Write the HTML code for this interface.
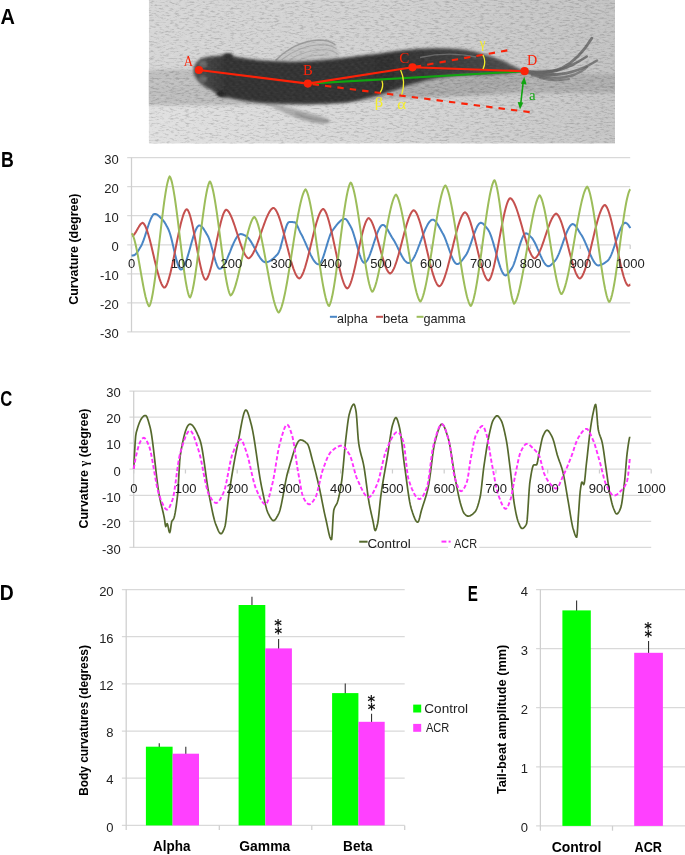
<!DOCTYPE html>
<html lang="en">
<head>
<meta charset="utf-8">
<title>Figure: body curvature and tail-beat amplitude</title>
<style>
html,body{margin:0;padding:0;background:#fff;}
body{width:685px;height:855px;overflow:hidden;}
svg{display:block;font-family:"Liberation Sans", sans-serif;}
</style>
</head>
<body>
<svg width="685" height="855" viewBox="0 0 685 855">
<rect width="685" height="855" fill="#fff"/>
<defs><linearGradient id="bgTop" x1="0" y1="0" x2="1" y2="0"><stop offset="0" stop-color="#d6d6d6"/><stop offset="0.5" stop-color="#d1d1d1"/><stop offset="1" stop-color="#c2c2c2"/></linearGradient><linearGradient id="bgBot" x1="0" y1="0" x2="1" y2="0"><stop offset="0" stop-color="#e0e0e0"/><stop offset="0.55" stop-color="#d5d5d5"/><stop offset="1" stop-color="#c5c5c5"/></linearGradient><linearGradient id="band" x1="0" y1="0" x2="1" y2="0"><stop offset="0" stop-color="#bfbfbf"/><stop offset="0.6" stop-color="#b0b0b0"/><stop offset="1" stop-color="#adadad"/></linearGradient><linearGradient id="body" x1="0" y1="0" x2="1" y2="0"><stop offset="0" stop-color="#4a4a4a"/><stop offset="0.1" stop-color="#2a2a2a"/><stop offset="0.6" stop-color="#282828"/><stop offset="0.8" stop-color="#383838"/><stop offset="1" stop-color="#4c4c4c"/></linearGradient><filter id="bl05" x="-10%" y="-30%" width="120%" height="160%"><feGaussianBlur stdDeviation="0.6"/></filter><filter id="bl1" x="-10%" y="-30%" width="120%" height="160%"><feGaussianBlur stdDeviation="1.1"/></filter><filter id="bl08" x="-10%" y="-30%" width="120%" height="160%"><feGaussianBlur stdDeviation="0.85"/></filter><filter id="bl15" x="-10%" y="-30%" width="120%" height="160%"><feGaussianBlur stdDeviation="1.5"/></filter><filter id="bl2" x="-10%" y="-40%" width="120%" height="180%"><feGaussianBlur stdDeviation="2"/></filter><filter id="grainW" x="0" y="0" width="100%" height="100%"><feTurbulence type="fractalNoise" baseFrequency="0.2 0.6" numOctaves="3" seed="7"/><feColorMatrix type="matrix" values="0 0 0 0 1  0 0 0 0 1  0 0 0 0 1  3 0 0 0 -1.5"/><feGaussianBlur stdDeviation="0.5"/></filter><filter id="grainB" x="0" y="0" width="100%" height="100%"><feTurbulence type="fractalNoise" baseFrequency="0.2 0.6" numOctaves="3" seed="7"/><feColorMatrix type="matrix" values="0 0 0 0 0  0 0 0 0 0  0 0 0 0 0  -3 0 0 0 1.5"/><feGaussianBlur stdDeviation="0.5"/></filter><pattern id="scales" x="0" y="0" width="7" height="6.4" patternUnits="userSpaceOnUse" patternTransform="rotate(-88) skewX(8)"><path d="M0,0 Q3.5,4 7,0 M-3.5,3.2 Q0,7.2 3.5,3.2 M3.5,3.2 Q7,7.2 10.5,3.2" fill="none" stroke="#707070" stroke-width="1.3" opacity="0.6"/></pattern><clipPath id="pc"><rect x="148.8" y="0" width="466.2" height="143.5"/></clipPath></defs>
<g clip-path="url(#pc)">
<rect x="148.8" y="0" width="466.2" height="143.5" fill="url(#bgTop)"/>
<rect x="148.8" y="88" width="466.2" height="55.5" fill="url(#bgBot)"/>
<path d="M140,70 L300,68 L460,72 L625,74 L625,92.5 L520,93.5 L430,97 L300,105 L140,105.5 Z" fill="url(#band)" filter="url(#bl15)"/>
<path d="M140,78 L200,78 L200,87 L140,87 Z" fill="#cccccc" opacity="0.25" filter="url(#bl2)"/>
<path d="M395,88 C420,80 470,76 525,72 C530,78 520,88 490,93 C460,97 420,98 395,96 Z" fill="#9d9d9d" opacity="0.4" filter="url(#bl2)"/>
<rect x="148.8" y="0" width="466.2" height="143.5" filter="url(#grainW)" opacity="0.12"/>
<rect x="148.8" y="0" width="466.2" height="143.5" filter="url(#grainB)" opacity="0.1"/>
<path d="M275,60.5 C285,50 300,41 318,39.5 C326,39.5 333,42 336,46 C339,51 340,56 339,61 Z" fill="#b4b4b4" opacity="0.45" filter="url(#bl1)"/>
<g fill="none" stroke-linecap="round" filter="url(#bl05)"><path d="M276,60 C286,50 300,41.5 318,40 C325,40 331,41.5 335,44.5" stroke="#8c8c8c" stroke-width="1.5" opacity="0.75"/><path d="M282,59.5 C292,51.5 305,45.5 320,44.5 C327,44.5 332,46 336,48.5" stroke="#9c9c9c" stroke-width="1.2" opacity="0.7"/><path d="M290,59.5 C300,53.5 312,49.5 324,49.5 C330,50 334,51.5 337,53.5" stroke="#a2a2a2" stroke-width="1.2" opacity="0.65"/><path d="M300,59.5 C308,56 318,54.5 328,55" stroke="#a8a8a8" stroke-width="1.1" opacity="0.6"/></g>
<path d="M263,101.5 C272,103 290,108 308,112.5 C318,115 327,117.5 331,121 C329,124.5 322,124.5 312,122.5 C300,120 285,114 268,104.5 Z" fill="#a6a6a6" opacity="0.85" filter="url(#bl1)"/>
<path d="M296,113.5 C306,117.5 318,120.5 327,121" fill="none" stroke="#868686" stroke-width="2.6" opacity="0.7" stroke-linecap="round" filter="url(#bl1)"/>
<g fill="none" stroke="#626262" stroke-linecap="round" filter="url(#bl05)"><path d="M525,71.5 C540,73 552,72.5 562,68 C574,62 584,51 591.8,38.2" stroke-width="2.8" opacity="0.8"/><path d="M527,72 C545,74 560,71 572,65 C578,62 583,59 586.8,56.5" stroke-width="2.6" opacity="0.8"/><path d="M528,73 C548,77 568,74 582,68.5 C588,66 593,63 597,60.5" stroke-width="2.6" opacity="0.75"/><path d="M532,75 C548,79.5 562,79 575,74.5 C580,72.5 584,70 587,67" stroke-width="2.4" opacity="0.65"/><path d="M540,78 C550,81 560,81 569,79" stroke-width="2.2" opacity="0.6"/></g><path d="M524,71.3 L550,70 L558,75.5 L540,78 Z" fill="#666" opacity="0.8" filter="url(#bl1)"/>
<path d="M193.6,70 C193.8,64 198,58.6 206,57.2 C213,56 219,56.4 222,55.6 C225,53.2 231,53 234,56.6 C245,59.5 270,61.5 295,61.8 C312,61.5 328,60 342,58.3 C358,56.2 374,54.2 388,52.4 C402,50.4 414,49.2 425,48.8 C436,48.4 446,48.5 455,49 C464,49.6 472,51 479,53 C488,55.5 496,58.2 502,60.5 C508,63.5 513,66 516.5,67.6 C520,69.2 522.5,70.4 525,71.3 C518,72.6 510,73.4 500,74 C486,74.6 470,74.9 455,75.8 C444,76.8 433,78.6 424,80.8 C417,82.6 410,84.6 404.5,86.6 C399,88.6 394,90.4 388.5,92 C381,94.4 373,96.6 365,98.4 C357,100.8 349,102 341.5,102.8 C326,104 310,104.2 295,103.8 C278,103.6 262,103 250,101.4 C240,100 232,98.4 228,97.2 C225,98.2 220,97.4 218.5,94.4 C215.5,93 213.5,91.6 211.5,89.8 C205,87 199,83 196,78 C194.2,75.4 193.4,72.6 193.6,70 Z" fill="url(#body)" filter="url(#bl15)"/>
<path d="M193.6,70 C193.8,64 198,58.6 206,57.2 C213,56 219,56.4 222,55.6 C225,53.2 231,53 234,56.6 C245,59.5 270,61.5 295,61.8 C312,61.5 328,60 342,58.3 C358,56.2 374,54.2 388,52.4 C402,50.4 414,49.2 425,48.8 C436,48.4 446,48.5 455,49 C464,49.6 472,51 479,53 C488,55.5 496,58.2 502,60.5 C508,63.5 513,66 516.5,67.6 C520,69.2 522.5,70.4 525,71.3 C518,72.6 510,73.4 500,74 C486,74.6 470,74.9 455,75.8 C444,76.8 433,78.6 424,80.8 C417,82.6 410,84.6 404.5,86.6 C399,88.6 394,90.4 388.5,92 C381,94.4 373,96.6 365,98.4 C357,100.8 349,102 341.5,102.8 C326,104 310,104.2 295,103.8 C278,103.6 262,103 250,101.4 C240,100 232,98.4 228,97.2 C225,98.2 220,97.4 218.5,94.4 C215.5,93 213.5,91.6 211.5,89.8 C205,87 199,83 196,78 C194.2,75.4 193.4,72.6 193.6,70 Z" fill="url(#scales)" opacity="0.55" filter="url(#bl08)"/>
<path d="M420,57.5 C440,53 460,53.5 476,57" fill="none" stroke="#8a8a8a" stroke-width="1.3" opacity="0.6" filter="url(#bl05)"/>
<ellipse cx="203" cy="64" rx="4" ry="3.5" fill="#808080" opacity="0.6" filter="url(#bl1)"/><ellipse cx="203" cy="79" rx="4" ry="3.5" fill="#808080" opacity="0.6" filter="url(#bl1)"/>
<ellipse cx="228" cy="56" rx="3.8" ry="2.2" fill="#2e2e2e" filter="url(#bl1)"/>
<ellipse cx="220.5" cy="93.6" rx="3.8" ry="2.8" fill="#262626" filter="url(#bl1)"/>
<rect x="148.8" y="0" width="466.2" height="143.5" filter="url(#grainW)" opacity="0.035"/>
<rect x="148.8" y="0" width="466.2" height="143.5" filter="url(#grainB)" opacity="0.05"/>
</g>
<line x1="307.8" y1="83.6" x2="524.6" y2="71.2" stroke="#10a510" stroke-width="2.1"/>
<line x1="307.8" y1="83.6" x2="530.2" y2="112.2" stroke="#fb2208" stroke-width="2.1" stroke-dasharray="6.4 6.1" stroke-dashoffset="-4.8"/>
<line x1="412.5" y1="67.3" x2="507.3" y2="50.4" stroke="#fb2208" stroke-width="2.1" stroke-dasharray="6.4 6.1" stroke-dashoffset="-2.4"/>
<path d="M198.9,70.0 L307.8,83.6 L412.5,67.3 L524.6,71.2" fill="none" stroke="#fb2208" stroke-width="2.1" stroke-linejoin="round"/>
<circle cx="198.9" cy="70.0" r="4.1" fill="#fb2208"/>
<circle cx="307.8" cy="83.6" r="4.1" fill="#fb2208"/>
<circle cx="412.5" cy="67.3" r="4.1" fill="#fb2208"/>
<circle cx="524.6" cy="71.2" r="4.1" fill="#fb2208"/>
<text transform="matrix(0.1277 0.0000 0.0000 0.1450 183.7723 65.8000)" font-size="100" font-family='"Liberation Serif", serif' fill="#fb2208">A</text>
<text transform="matrix(0.1458 0.0000 0.0000 0.1542 303.0627 75.1000)" font-size="100" font-family='"Liberation Serif", serif' fill="#fb2208">B</text>
<text transform="matrix(0.1509 0.0000 0.0000 0.1463 399.1965 63.2537)" font-size="100" font-family='"Liberation Serif", serif' fill="#fb2208">C</text>
<text transform="matrix(0.1415 0.0000 0.0000 0.1466 527.0754 65.0000)" font-size="100" font-family='"Liberation Serif", serif' fill="#fb2208">D</text>
<text transform="matrix(0.1310 0.0000 0.0000 0.1444 479.7000 48.4684)" font-size="100" font-family='"Liberation Serif", serif' fill="#f5ee2a">γ</text>
<text transform="matrix(0.1650 0.0000 0.0000 0.1429 374.6275 107.1000)" font-size="100" font-family='"Liberation Serif", serif' fill="#f5ee2a">β</text>
<text transform="matrix(0.1696 0.0000 0.0000 0.1500 397.2217 109.0500)" font-size="100" font-family='"Liberation Serif", serif' fill="#f5ee2a">α</text>
<text transform="matrix(0.1494 0.0000 0.0000 0.1411 528.8772 99.5589)" font-size="100" font-family='"Liberation Serif", serif' fill="#10a510">a</text>
<path d="M483,55 Q486.5,62 483,69" fill="none" stroke="#f5ee2a" stroke-width="1.3"/>
<path d="M400.6,70 Q406,82 401.7,94.6" fill="none" stroke="#f5ee2a" stroke-width="1.3"/>
<path d="M381.9,80.6 Q384,86.5 380.3,92.3" fill="none" stroke="#f5ee2a" stroke-width="1.3"/>
<line x1="523.2" y1="82" x2="520.7" y2="104" stroke="#10a510" stroke-width="1.6"/>
<path d="M524.3,76.8 L526.6,84.4 L521.0,83.8 Z" fill="#10a510"/>
<path d="M520,109.5 L517.7,101.9 L523.3,102.5 Z" fill="#10a510"/>
<text transform="matrix(0.1993 0.0000 0.0000 0.2190 0.6019 23.8700)" font-size="100" font-family='"Liberation Sans", sans-serif' font-weight="bold" fill="#000">A</text>
<text transform="matrix(0.1770 0.0000 0.0000 0.2159 0.9492 167.1000)" font-size="100" font-family='"Liberation Sans", sans-serif' font-weight="bold" fill="#000">B</text>
<text transform="matrix(0.1664 0.0000 0.0000 0.2176 0.2344 406.4324)" font-size="100" font-family='"Liberation Sans", sans-serif' font-weight="bold" fill="#000">C</text>
<text transform="matrix(0.1935 0.0000 0.0000 0.2116 -0.2577 599.9000)" font-size="100" font-family='"Liberation Sans", sans-serif' font-weight="bold" fill="#000">D</text>
<text transform="matrix(0.1522 0.0000 0.0000 0.2130 467.7106 600.8000)" font-size="100" font-family='"Liberation Sans", sans-serif' font-weight="bold" fill="#000">E</text>
<line x1="127.20" y1="331.90" x2="630.20" y2="331.90" stroke="#d9d9d9" stroke-width="1.25"/>
<text x="118.8" y="338.3" font-size="13" text-anchor="end" fill="#222">-30</text>
<line x1="127.20" y1="302.85" x2="630.20" y2="302.85" stroke="#d9d9d9" stroke-width="1.25"/>
<text x="118.8" y="309.25" font-size="13" text-anchor="end" fill="#222">-20</text>
<line x1="127.20" y1="273.80" x2="630.20" y2="273.80" stroke="#d9d9d9" stroke-width="1.25"/>
<text x="118.8" y="280.2" font-size="13" text-anchor="end" fill="#222">-10</text>
<line x1="127.20" y1="244.75" x2="630.20" y2="244.75" stroke="#d9d9d9" stroke-width="1.25"/>
<text x="118.8" y="251.15" font-size="13" text-anchor="end" fill="#222">0</text>
<line x1="127.20" y1="215.70" x2="630.20" y2="215.70" stroke="#d9d9d9" stroke-width="1.25"/>
<text x="118.8" y="222.1" font-size="13" text-anchor="end" fill="#222">10</text>
<line x1="127.20" y1="186.65" x2="630.20" y2="186.65" stroke="#d9d9d9" stroke-width="1.25"/>
<text x="118.8" y="193.05" font-size="13" text-anchor="end" fill="#222">20</text>
<line x1="127.20" y1="157.60" x2="630.20" y2="157.60" stroke="#d9d9d9" stroke-width="1.25"/>
<text x="118.8" y="164.0" font-size="13" text-anchor="end" fill="#222">30</text>
<line x1="131.50" y1="157.60" x2="131.50" y2="331.90" stroke="#cfcfcf" stroke-width="1.25"/>
<line x1="131.50" y1="244.75" x2="131.50" y2="249.05" stroke="#cfcfcf" stroke-width="1.25"/>
<line x1="181.37" y1="244.75" x2="181.37" y2="249.05" stroke="#cfcfcf" stroke-width="1.25"/>
<line x1="231.24" y1="244.75" x2="231.24" y2="249.05" stroke="#cfcfcf" stroke-width="1.25"/>
<line x1="281.11" y1="244.75" x2="281.11" y2="249.05" stroke="#cfcfcf" stroke-width="1.25"/>
<line x1="330.98" y1="244.75" x2="330.98" y2="249.05" stroke="#cfcfcf" stroke-width="1.25"/>
<line x1="380.85" y1="244.75" x2="380.85" y2="249.05" stroke="#cfcfcf" stroke-width="1.25"/>
<line x1="430.72" y1="244.75" x2="430.72" y2="249.05" stroke="#cfcfcf" stroke-width="1.25"/>
<line x1="480.59" y1="244.75" x2="480.59" y2="249.05" stroke="#cfcfcf" stroke-width="1.25"/>
<line x1="530.46" y1="244.75" x2="530.46" y2="249.05" stroke="#cfcfcf" stroke-width="1.25"/>
<line x1="580.33" y1="244.75" x2="580.33" y2="249.05" stroke="#cfcfcf" stroke-width="1.25"/>
<line x1="630.20" y1="244.75" x2="630.20" y2="249.05" stroke="#cfcfcf" stroke-width="1.25"/>
<path d="M131.6,255.7 L132.1,255.6 L132.6,255.6 L133.1,255.5 L133.6,255.3 L134.1,255.2 L134.6,255.0 L135.1,254.7 L135.6,254.3 L136.1,253.7 L136.6,253.1 L137.1,252.5 L137.6,251.7 L138.1,251.0 L138.6,250.2 L139.1,249.3 L139.6,248.5 L140.1,247.6 L140.6,246.8 L141.1,245.9 L141.6,245.0 L142.1,243.9 L142.6,242.7 L143.1,241.5 L143.6,240.1 L144.1,238.7 L144.6,237.2 L145.1,235.7 L145.6,234.1 L146.1,232.6 L146.6,231.0 L147.1,229.4 L147.6,227.8 L148.1,226.3 L148.6,224.8 L149.1,223.3 L149.6,221.9 L150.1,220.6 L150.6,219.4 L151.1,218.2 L151.6,217.2 L152.1,216.3 L152.6,215.5 L153.1,214.8 L153.6,214.3 L154.1,214.0 L154.6,213.9 L155.1,213.9 L155.6,214.0 L156.1,214.2 L156.6,214.4 L157.1,214.7 L157.6,215.0 L158.1,215.4 L158.6,215.8 L159.1,216.2 L159.6,216.7 L160.1,217.2 L160.6,217.7 L161.1,218.2 L161.6,218.7 L162.1,219.2 L162.6,219.7 L163.1,220.3 L163.6,221.0 L164.1,221.7 L164.6,222.4 L165.1,223.2 L165.6,224.1 L166.1,225.0 L166.6,225.9 L167.1,226.8 L167.6,227.8 L168.1,228.8 L168.6,229.8 L169.1,231.1 L169.6,232.5 L170.1,234.0 L170.6,235.8 L171.1,237.6 L171.6,239.5 L172.1,241.6 L172.6,243.7 L173.1,245.8 L173.6,248.0 L174.1,250.2 L174.6,252.3 L175.1,254.4 L175.6,256.5 L176.1,258.5 L176.6,260.4 L177.1,262.1 L177.6,263.8 L178.1,265.2 L178.6,266.5 L179.1,267.6 L179.6,268.5 L180.1,269.1 L180.6,269.5 L181.1,269.6 L181.6,269.4 L182.1,269.1 L182.6,268.6 L183.1,268.0 L183.6,267.2 L184.1,266.2 L184.6,265.2 L185.1,264.0 L185.6,262.7 L186.1,261.3 L186.6,259.8 L187.1,258.2 L187.6,256.6 L188.1,254.9 L188.6,253.2 L189.1,251.4 L189.6,249.7 L190.1,247.9 L190.6,246.1 L191.1,244.3 L191.6,242.5 L192.1,240.8 L192.6,239.1 L193.1,237.4 L193.6,235.8 L194.1,234.3 L194.6,232.9 L195.1,231.5 L195.6,230.3 L196.1,229.2 L196.6,228.2 L197.1,227.3 L197.6,226.6 L198.1,226.1 L198.6,225.7 L199.1,225.5 L199.6,225.4 L200.1,225.6 L200.6,225.8 L201.1,226.1 L201.6,226.5 L202.1,227.0 L202.6,227.6 L203.1,228.2 L203.6,228.9 L204.1,229.7 L204.6,230.5 L205.1,231.3 L205.6,232.1 L206.1,233.0 L206.6,233.9 L207.1,234.7 L207.6,235.6 L208.1,236.5 L208.6,237.5 L209.1,238.8 L209.6,240.2 L210.1,241.7 L210.6,243.3 L211.1,245.1 L211.6,246.9 L212.1,248.7 L212.6,250.6 L213.1,252.5 L213.6,254.4 L214.1,256.3 L214.6,258.1 L215.1,259.8 L215.6,261.5 L216.1,263.0 L216.6,264.4 L217.1,265.6 L217.6,266.7 L218.1,267.6 L218.6,268.2 L219.1,268.6 L219.6,268.8 L220.1,268.7 L220.6,268.6 L221.1,268.3 L221.6,267.9 L222.1,267.5 L222.6,266.9 L223.1,266.3 L223.6,265.6 L224.1,264.8 L224.6,263.9 L225.1,263.0 L225.6,262.0 L226.1,261.0 L226.6,259.9 L227.1,258.8 L227.6,257.6 L228.1,256.4 L228.6,255.2 L229.1,254.0 L229.6,252.8 L230.1,251.6 L230.6,250.3 L231.1,249.1 L231.6,247.9 L232.1,246.7 L232.6,245.5 L233.1,244.3 L233.6,243.2 L234.1,242.1 L234.6,241.1 L235.1,240.1 L235.6,239.2 L236.1,238.3 L236.6,237.5 L237.1,236.7 L237.6,236.1 L238.1,235.5 L238.6,235.0 L239.1,234.6 L239.6,234.4 L240.1,234.2 L240.6,234.1 L241.1,234.1 L241.6,234.2 L242.1,234.3 L242.6,234.5 L243.1,234.6 L243.6,234.8 L244.1,235.1 L244.6,235.3 L245.1,235.5 L245.6,235.8 L246.1,236.1 L246.6,236.4 L247.1,236.8 L247.6,237.2 L248.1,237.7 L248.6,238.3 L249.1,238.9 L249.6,239.6 L250.1,240.3 L250.6,241.1 L251.1,241.9 L251.6,242.7 L252.1,243.6 L252.6,244.4 L253.1,245.3 L253.6,246.3 L254.1,247.2 L254.6,248.1 L255.1,249.1 L255.6,250.0 L256.1,250.9 L256.6,251.9 L257.1,252.8 L257.6,253.7 L258.1,254.6 L258.6,255.4 L259.1,256.2 L259.6,257.0 L260.1,257.8 L260.6,258.5 L261.1,259.1 L261.6,259.7 L262.1,260.3 L262.6,260.8 L263.1,261.2 L263.6,261.6 L264.1,261.8 L264.6,262.0 L265.1,262.2 L265.6,262.2 L266.1,262.2 L266.6,262.2 L267.1,262.1 L267.6,261.9 L268.1,261.8 L268.6,261.6 L269.1,261.4 L269.6,261.1 L270.1,260.8 L270.6,260.5 L271.1,260.2 L271.6,259.8 L272.1,259.4 L272.6,259.0 L273.1,258.6 L273.6,258.2 L274.1,257.7 L274.6,257.2 L275.1,256.8 L275.6,256.3 L276.1,255.8 L276.6,255.2 L277.1,254.7 L277.6,254.2 L278.1,253.4 L278.6,252.5 L279.1,251.3 L279.6,250.0 L280.1,248.5 L280.6,246.8 L281.1,245.1 L281.6,243.3 L282.1,241.4 L282.6,239.5 L283.1,237.6 L283.6,235.7 L284.1,233.8 L284.6,231.9 L285.1,230.2 L285.6,228.6 L286.1,227.1 L286.6,225.7 L287.1,224.5 L287.6,223.5 L288.1,222.8 L288.6,222.3 L289.1,222.0 L289.6,222.0 L290.1,222.0 L290.6,222.0 L291.1,222.1 L291.6,222.1 L292.1,222.1 L292.6,222.1 L293.1,222.2 L293.6,222.2 L294.1,222.2 L294.6,222.3 L295.1,222.5 L295.6,223.0 L296.1,223.6 L296.6,224.4 L297.1,225.3 L297.6,226.4 L298.1,227.5 L298.6,228.6 L299.1,229.8 L299.6,230.9 L300.1,232.0 L300.6,233.0 L301.1,233.9 L301.6,234.8 L302.1,235.7 L302.6,236.8 L303.1,237.8 L303.6,238.9 L304.1,239.9 L304.6,241.1 L305.1,242.2 L305.6,243.3 L306.1,244.5 L306.6,245.6 L307.1,246.8 L307.6,247.9 L308.1,249.1 L308.6,250.2 L309.1,251.3 L309.6,252.4 L310.1,253.5 L310.6,254.6 L311.1,255.6 L311.6,256.6 L312.1,257.5 L312.6,258.4 L313.1,259.3 L313.6,260.1 L314.1,260.8 L314.6,261.5 L315.1,262.1 L315.6,262.7 L316.1,263.1 L316.6,263.6 L317.1,263.9 L317.6,264.1 L318.1,264.3 L318.6,264.3 L319.1,264.2 L319.6,264.0 L320.1,263.5 L320.6,262.8 L321.1,262.0 L321.6,261.0 L322.1,259.9 L322.6,258.7 L323.1,257.3 L323.6,255.9 L324.1,254.4 L324.6,252.8 L325.1,251.1 L325.6,249.5 L326.1,247.8 L326.6,246.1 L327.1,244.4 L327.6,242.7 L328.1,241.1 L328.6,239.5 L329.1,238.0 L329.6,236.5 L330.1,235.2 L330.6,234.0 L331.1,232.8 L331.6,231.9 L332.1,231.0 L332.6,230.3 L333.1,229.7 L333.6,229.0 L334.1,228.3 L334.6,227.6 L335.1,227.0 L335.6,226.3 L336.1,225.7 L336.6,225.0 L337.1,224.4 L337.6,223.8 L338.1,223.2 L338.6,222.7 L339.1,222.2 L339.6,221.7 L340.1,221.2 L340.6,220.8 L341.1,220.4 L341.6,220.0 L342.1,219.7 L342.6,219.5 L343.1,219.2 L343.6,219.1 L344.1,218.9 L344.6,218.9 L345.1,218.9 L345.6,219.0 L346.1,219.4 L346.6,219.9 L347.1,220.5 L347.6,221.2 L348.1,222.0 L348.6,222.9 L349.1,223.8 L349.6,224.7 L350.1,225.6 L350.6,226.5 L351.1,227.4 L351.6,228.5 L352.1,229.7 L352.6,231.0 L353.1,232.4 L353.6,234.0 L354.1,235.6 L354.6,237.2 L355.1,238.9 L355.6,240.7 L356.1,242.5 L356.6,244.3 L357.1,246.1 L357.6,247.8 L358.1,249.6 L358.6,251.3 L359.1,252.9 L359.6,254.5 L360.1,255.9 L360.6,257.3 L361.1,258.5 L361.6,259.6 L362.1,260.6 L362.6,261.4 L363.1,262.0 L363.6,262.5 L364.1,262.7 L364.6,262.7 L365.1,262.6 L365.6,262.3 L366.1,261.8 L366.6,261.2 L367.1,260.5 L367.6,259.7 L368.1,258.8 L368.6,257.7 L369.1,256.6 L369.6,255.4 L370.1,254.1 L370.6,252.7 L371.1,251.3 L371.6,249.9 L372.1,248.4 L372.6,246.9 L373.1,245.3 L373.6,243.8 L374.1,242.2 L374.6,240.7 L375.1,239.2 L375.6,237.7 L376.1,236.3 L376.6,234.9 L377.1,233.5 L377.6,232.2 L378.1,231.0 L378.6,229.9 L379.1,228.9 L379.6,227.9 L380.1,227.1 L380.6,226.4 L381.1,225.8 L381.6,225.4 L382.1,225.1 L382.6,224.9 L383.1,224.9 L383.6,225.1 L384.1,225.3 L384.6,225.7 L385.1,226.2 L385.6,226.7 L386.1,227.4 L386.6,228.1 L387.1,228.8 L387.6,229.6 L388.1,230.5 L388.6,231.4 L389.1,232.3 L389.6,233.2 L390.1,234.1 L390.6,235.0 L391.1,235.9 L391.6,236.7 L392.1,237.6 L392.6,238.3 L393.1,239.1 L393.6,239.9 L394.1,240.7 L394.6,241.6 L395.1,242.5 L395.6,243.4 L396.1,244.4 L396.6,245.4 L397.1,246.4 L397.6,247.4 L398.1,248.5 L398.6,249.5 L399.1,250.5 L399.6,251.5 L400.1,252.6 L400.6,253.5 L401.1,254.5 L401.6,255.5 L402.1,256.4 L402.6,257.2 L403.1,258.1 L403.6,258.9 L404.1,259.6 L404.6,260.3 L405.1,260.9 L405.6,261.4 L406.1,261.9 L406.6,262.3 L407.1,262.6 L407.6,262.8 L408.1,263.0 L408.6,263.0 L409.1,262.9 L409.6,262.8 L410.1,262.5 L410.6,262.1 L411.1,261.7 L411.6,261.1 L412.1,260.5 L412.6,259.7 L413.1,259.0 L413.6,258.1 L414.1,257.2 L414.6,256.2 L415.1,255.2 L415.6,254.1 L416.1,252.9 L416.6,251.8 L417.1,250.5 L417.6,249.3 L418.1,248.0 L418.6,246.7 L419.1,245.4 L419.6,244.1 L420.1,242.7 L420.6,241.4 L421.1,240.1 L421.6,238.7 L422.1,237.4 L422.6,236.1 L423.1,234.8 L423.6,233.5 L424.1,232.2 L424.6,231.0 L425.1,229.8 L425.6,228.7 L426.1,227.6 L426.6,226.6 L427.1,225.6 L427.6,224.6 L428.1,223.8 L428.6,223.0 L429.1,222.3 L429.6,221.6 L430.1,221.1 L430.6,220.6 L431.1,220.2 L431.6,219.9 L432.1,219.7 L432.6,219.7 L433.1,219.7 L433.6,219.8 L434.1,220.1 L434.6,220.5 L435.1,220.9 L435.6,221.5 L436.1,222.1 L436.6,222.7 L437.1,223.5 L437.6,224.3 L438.1,225.1 L438.6,226.0 L439.1,226.9 L439.6,227.8 L440.1,228.7 L440.6,229.6 L441.1,230.5 L441.6,231.4 L442.1,232.3 L442.6,233.2 L443.1,234.0 L443.6,235.0 L444.1,236.0 L444.6,237.1 L445.1,238.3 L445.6,239.6 L446.1,240.9 L446.6,242.3 L447.1,243.6 L447.6,245.1 L448.1,246.5 L448.6,247.9 L449.1,249.3 L449.6,250.8 L450.1,252.2 L450.6,253.5 L451.1,254.8 L451.6,256.1 L452.1,257.3 L452.6,258.5 L453.1,259.5 L453.6,260.5 L454.1,261.4 L454.6,262.1 L455.1,262.8 L455.6,263.3 L456.1,263.7 L456.6,264.0 L457.1,264.1 L457.6,264.0 L458.1,263.9 L458.6,263.7 L459.1,263.4 L459.6,263.0 L460.1,262.6 L460.6,262.1 L461.1,261.5 L461.6,260.9 L462.1,260.3 L462.6,259.7 L463.1,259.0 L463.6,258.3 L464.1,257.6 L464.6,256.9 L465.1,256.2 L465.6,255.6 L466.1,254.8 L466.6,254.0 L467.1,253.0 L467.6,252.0 L468.1,250.9 L468.6,249.6 L469.1,248.4 L469.6,247.0 L470.1,245.6 L470.6,244.2 L471.1,242.8 L471.6,241.3 L472.1,239.8 L472.6,238.4 L473.1,236.9 L473.6,235.5 L474.1,234.0 L474.6,232.7 L475.1,231.3 L475.6,230.1 L476.1,228.9 L476.6,227.8 L477.1,226.7 L477.6,225.8 L478.1,225.0 L478.6,224.3 L479.1,223.7 L479.6,223.3 L480.1,223.0 L480.6,222.8 L481.1,222.8 L481.6,222.9 L482.1,223.2 L482.6,223.4 L483.1,223.8 L483.6,224.2 L484.1,224.7 L484.6,225.3 L485.1,225.8 L485.6,226.4 L486.1,227.1 L486.6,227.7 L487.1,228.4 L487.6,229.0 L488.1,229.7 L488.6,230.5 L489.1,231.4 L489.6,232.4 L490.1,233.6 L490.6,234.8 L491.1,236.2 L491.6,237.6 L492.1,239.2 L492.6,240.8 L493.1,242.4 L493.6,244.1 L494.1,245.9 L494.6,247.7 L495.1,249.5 L495.6,251.3 L496.1,253.1 L496.6,254.9 L497.1,256.7 L497.6,258.5 L498.1,260.2 L498.6,261.9 L499.1,263.5 L499.6,265.1 L500.1,266.6 L500.6,268.0 L501.1,269.3 L501.6,270.5 L502.1,271.6 L502.6,272.6 L503.1,273.4 L503.6,274.1 L504.1,274.7 L504.6,275.1 L505.1,275.3 L505.6,275.4 L506.1,275.3 L506.6,275.0 L507.1,274.7 L507.6,274.2 L508.1,273.7 L508.6,273.0 L509.1,272.4 L509.6,271.7 L510.1,270.9 L510.6,270.2 L511.1,269.4 L511.6,268.7 L512.1,267.9 L512.6,266.9 L513.1,265.8 L513.6,264.6 L514.1,263.3 L514.6,261.9 L515.1,260.5 L515.6,258.9 L516.1,257.3 L516.6,255.7 L517.1,254.0 L517.6,252.3 L518.1,250.7 L518.6,249.0 L519.1,247.3 L519.6,245.7 L520.1,244.1 L520.6,242.6 L521.1,241.2 L521.6,239.8 L522.1,238.5 L522.6,237.4 L523.1,236.3 L523.6,235.4 L524.1,234.7 L524.6,234.1 L525.1,233.6 L525.6,233.4 L526.1,233.3 L526.6,233.4 L527.1,233.6 L527.6,233.9 L528.1,234.2 L528.6,234.6 L529.1,235.1 L529.6,235.6 L530.1,236.1 L530.6,236.6 L531.1,237.1 L531.6,237.6 L532.1,238.2 L532.6,238.9 L533.1,239.7 L533.6,240.5 L534.1,241.4 L534.6,242.3 L535.1,243.3 L535.6,244.3 L536.1,245.4 L536.6,246.5 L537.1,247.6 L537.6,248.8 L538.1,249.9 L538.6,251.1 L539.1,252.2 L539.6,253.4 L540.1,254.5 L540.6,255.7 L541.1,256.8 L541.6,257.8 L542.1,258.9 L542.6,259.9 L543.1,260.8 L543.6,261.7 L544.1,262.5 L544.6,263.3 L545.1,264.0 L545.6,264.6 L546.1,265.1 L546.6,265.5 L547.1,265.8 L547.6,266.0 L548.1,266.2 L548.6,266.2 L549.1,266.0 L549.6,265.9 L550.1,265.6 L550.6,265.3 L551.1,264.9 L551.6,264.4 L552.1,263.9 L552.6,263.4 L553.1,262.9 L553.6,262.3 L554.1,261.8 L554.6,261.2 L555.1,260.7 L555.6,260.0 L556.1,259.3 L556.6,258.4 L557.1,257.5 L557.6,256.5 L558.1,255.4 L558.6,254.3 L559.1,253.1 L559.6,251.8 L560.1,250.5 L560.6,249.2 L561.1,247.8 L561.6,246.4 L562.1,245.0 L562.6,243.6 L563.1,242.1 L563.6,240.7 L564.1,239.3 L564.6,237.9 L565.1,236.6 L565.6,235.2 L566.1,233.9 L566.6,232.7 L567.1,231.5 L567.6,230.4 L568.1,229.3 L568.6,228.4 L569.1,227.5 L569.6,226.7 L570.1,226.0 L570.6,225.4 L571.1,224.9 L571.6,224.5 L572.1,224.2 L572.6,224.1 L573.1,224.2 L573.6,224.3 L574.1,224.6 L574.6,225.0 L575.1,225.4 L575.6,226.0 L576.1,226.6 L576.6,227.3 L577.1,228.1 L577.6,228.9 L578.1,229.7 L578.6,230.5 L579.1,231.4 L579.6,232.2 L580.1,233.0 L580.6,233.8 L581.1,234.5 L581.6,235.3 L582.1,236.1 L582.6,237.0 L583.1,237.9 L583.6,238.9 L584.1,240.0 L584.6,241.0 L585.1,242.2 L585.6,243.3 L586.1,244.5 L586.6,245.7 L587.1,246.9 L587.6,248.1 L588.1,249.3 L588.6,250.5 L589.1,251.7 L589.6,252.9 L590.1,254.0 L590.6,255.2 L591.1,256.3 L591.6,257.3 L592.1,258.4 L592.6,259.3 L593.1,260.3 L593.6,261.1 L594.1,261.9 L594.6,262.7 L595.1,263.3 L595.6,263.9 L596.1,264.4 L596.6,264.8 L597.1,265.1 L597.6,265.3 L598.1,265.4 L598.6,265.4 L599.1,265.3 L599.6,265.2 L600.1,265.1 L600.6,265.0 L601.1,264.8 L601.6,264.6 L602.1,264.4 L602.6,264.1 L603.1,263.9 L603.6,263.6 L604.1,263.3 L604.6,262.9 L605.1,262.6 L605.6,262.2 L606.1,261.9 L606.6,261.5 L607.1,261.2 L607.6,260.8 L608.1,260.3 L608.6,259.7 L609.1,259.0 L609.6,258.1 L610.1,257.2 L610.6,256.2 L611.1,255.1 L611.6,253.9 L612.1,252.6 L612.6,251.3 L613.1,249.9 L613.6,248.5 L614.1,247.0 L614.6,245.6 L615.1,244.1 L615.6,242.5 L616.1,241.0 L616.6,239.5 L617.1,238.0 L617.6,236.6 L618.1,235.1 L618.6,233.7 L619.1,232.4 L619.6,231.1 L620.1,229.8 L620.6,228.7 L621.1,227.6 L621.6,226.6 L622.1,225.7 L622.6,224.9 L623.1,224.2 L623.6,223.7 L624.1,223.3 L624.6,223.0 L625.1,222.8 L625.6,222.8 L626.1,223.0 L626.6,223.3 L627.1,223.6 L627.6,224.1 L628.1,224.7 L628.6,225.4 L629.1,226.1 L629.6,226.9 L630.1,227.7 L630.3,228.1" fill="none" stroke="#4a86c5" stroke-width="2" stroke-linejoin="round"/>
<path d="M132.1,235.9 L132.6,235.8 L133.1,235.5 L133.6,235.1 L134.1,234.6 L134.6,233.9 L135.1,233.2 L135.6,232.4 L136.1,231.6 L136.6,230.7 L137.1,229.8 L137.6,228.9 L138.1,228.0 L138.6,227.2 L139.1,226.3 L139.6,225.6 L140.1,224.9 L140.6,224.2 L141.1,223.7 L141.6,223.3 L142.1,223.0 L142.6,222.8 L143.1,223.1 L143.6,223.5 L144.1,224.1 L144.6,224.9 L145.1,225.8 L145.6,226.8 L146.1,228.0 L146.6,229.3 L147.1,230.7 L147.6,232.2 L148.1,233.8 L148.6,235.5 L149.1,237.3 L149.6,239.1 L150.1,241.1 L150.6,243.0 L151.1,245.1 L151.6,247.1 L152.1,249.2 L152.6,251.3 L153.1,253.5 L153.6,255.6 L154.1,257.8 L154.6,259.9 L155.1,262.0 L155.6,264.1 L156.1,266.1 L156.6,268.2 L157.1,270.1 L157.6,272.0 L158.1,273.8 L158.6,275.6 L159.1,277.3 L159.6,278.9 L160.1,280.3 L160.6,281.7 L161.1,283.0 L161.6,284.1 L162.1,285.1 L162.6,285.9 L163.1,286.6 L163.6,287.2 L164.1,287.6 L164.6,287.6 L165.1,287.2 L165.6,286.7 L166.1,285.9 L166.6,285.0 L167.1,283.8 L167.6,282.6 L168.1,281.2 L168.6,279.6 L169.1,277.9 L169.6,276.1 L170.1,274.2 L170.6,272.2 L171.1,270.0 L171.6,267.8 L172.1,265.6 L172.6,263.2 L173.1,260.8 L173.6,258.4 L174.1,255.9 L174.6,253.4 L175.1,250.9 L175.6,248.4 L176.1,245.8 L176.6,243.3 L177.1,240.8 L177.6,238.3 L178.1,235.9 L178.6,233.5 L179.1,231.2 L179.6,228.9 L180.1,226.7 L180.6,224.6 L181.1,222.6 L181.6,220.7 L182.1,218.9 L182.6,217.2 L183.1,215.6 L183.6,214.2 L184.1,213.0 L184.6,211.9 L185.1,210.9 L185.6,210.2 L186.1,209.6 L186.6,209.2 L187.1,209.4 L187.6,209.9 L188.1,210.6 L188.6,211.6 L189.1,212.8 L189.6,214.2 L190.1,215.8 L190.6,217.5 L191.1,219.4 L191.6,221.5 L192.1,223.6 L192.6,225.9 L193.1,228.3 L193.6,230.7 L194.1,233.3 L194.6,235.9 L195.1,238.5 L195.6,241.2 L196.1,243.9 L196.6,246.5 L197.1,249.2 L197.6,251.9 L198.1,254.5 L198.6,257.1 L199.1,259.6 L199.6,262.0 L200.1,264.3 L200.6,266.5 L201.1,268.6 L201.6,270.6 L202.1,272.4 L202.6,274.1 L203.1,275.5 L203.6,276.8 L204.1,277.9 L204.6,278.8 L205.1,279.4 L205.6,279.8 L206.1,279.6 L206.6,279.1 L207.1,278.4 L207.6,277.5 L208.1,276.5 L208.6,275.2 L209.1,273.8 L209.6,272.3 L210.1,270.6 L210.6,268.8 L211.1,266.9 L211.6,264.9 L212.1,262.8 L212.6,260.6 L213.1,258.4 L213.6,256.0 L214.1,253.7 L214.6,251.2 L215.1,248.8 L215.6,246.4 L216.1,243.9 L216.6,241.4 L217.1,239.0 L217.6,236.6 L218.1,234.2 L218.6,231.8 L219.1,229.6 L219.6,227.3 L220.1,225.2 L220.6,223.2 L221.1,221.2 L221.6,219.4 L222.1,217.7 L222.6,216.1 L223.1,214.7 L223.6,213.4 L224.1,212.3 L224.6,211.4 L225.1,210.6 L225.6,210.0 L226.1,209.7 L226.6,209.8 L227.1,210.1 L227.6,210.5 L228.1,211.1 L228.6,211.7 L229.1,212.4 L229.6,213.3 L230.1,214.2 L230.6,215.2 L231.1,216.3 L231.6,217.4 L232.1,218.7 L232.6,219.9 L233.1,221.3 L233.6,222.7 L234.1,224.1 L234.6,225.5 L235.1,227.0 L235.6,228.6 L236.1,230.1 L236.6,231.7 L237.1,233.2 L237.6,234.8 L238.1,236.4 L238.6,237.9 L239.1,239.4 L239.6,241.0 L240.1,242.5 L240.6,243.9 L241.1,245.4 L241.6,246.7 L242.1,248.1 L242.6,249.3 L243.1,250.6 L243.6,251.7 L244.1,252.8 L244.6,253.8 L245.1,254.7 L245.6,255.5 L246.1,256.3 L246.6,256.9 L247.1,257.4 L247.6,257.8 L248.1,258.1 L248.6,258.3 L249.1,258.1 L249.6,257.8 L250.1,257.4 L250.6,256.9 L251.1,256.3 L251.6,255.7 L252.1,254.9 L252.6,254.1 L253.1,253.2 L253.6,252.3 L254.1,251.2 L254.6,250.2 L255.1,249.0 L255.6,247.9 L256.1,246.6 L256.6,245.4 L257.1,244.0 L257.6,242.7 L258.1,241.3 L258.6,239.9 L259.1,238.5 L259.6,237.1 L260.1,235.6 L260.6,234.2 L261.1,232.7 L261.6,231.3 L262.1,229.8 L262.6,228.4 L263.1,227.0 L263.6,225.6 L264.1,224.2 L264.6,222.8 L265.1,221.5 L265.6,220.2 L266.1,218.9 L266.6,217.7 L267.1,216.6 L267.6,215.5 L268.1,214.4 L268.6,213.4 L269.1,212.5 L269.6,211.6 L270.1,210.9 L270.6,210.2 L271.1,209.5 L271.6,209.0 L272.1,208.6 L272.6,208.2 L273.1,208.0 L273.6,207.9 L274.1,208.1 L274.6,208.6 L275.1,209.1 L275.6,209.7 L276.1,210.5 L276.6,211.4 L277.1,212.4 L277.6,213.5 L278.1,214.7 L278.6,215.9 L279.1,217.3 L279.6,218.7 L280.1,220.3 L280.6,221.8 L281.1,223.5 L281.6,225.2 L282.1,226.9 L282.6,228.7 L283.1,230.6 L283.6,232.5 L284.1,234.4 L284.6,236.3 L285.1,238.3 L285.6,240.2 L286.1,242.2 L286.6,244.2 L287.1,246.1 L287.6,248.1 L288.1,250.1 L288.6,252.0 L289.1,253.9 L289.6,255.8 L290.1,257.6 L290.6,259.4 L291.1,261.2 L291.6,262.9 L292.1,264.5 L292.6,266.1 L293.1,267.6 L293.6,269.1 L294.1,270.4 L294.6,271.7 L295.1,272.9 L295.6,274.0 L296.1,275.0 L296.6,275.8 L297.1,276.6 L297.6,277.3 L298.1,277.8 L298.6,278.2 L299.1,278.5 L299.6,278.3 L300.1,278.0 L300.6,277.5 L301.1,276.8 L301.6,276.0 L302.1,275.1 L302.6,274.0 L303.1,272.8 L303.6,271.6 L304.1,270.2 L304.6,268.7 L305.1,267.2 L305.6,265.5 L306.1,263.8 L306.6,262.0 L307.1,260.2 L307.6,258.3 L308.1,256.3 L308.6,254.3 L309.1,252.3 L309.6,250.2 L310.1,248.2 L310.6,246.1 L311.1,244.0 L311.6,241.9 L312.1,239.8 L312.6,237.7 L313.1,235.6 L313.6,233.6 L314.1,231.6 L314.6,229.6 L315.1,227.7 L315.6,225.9 L316.1,224.1 L316.6,222.3 L317.1,220.7 L317.6,219.1 L318.1,217.6 L318.6,216.2 L319.1,214.9 L319.6,213.7 L320.1,212.6 L320.6,211.6 L321.1,210.8 L321.6,210.1 L322.1,209.6 L322.6,209.1 L323.1,208.9 L323.6,209.2 L324.1,209.6 L324.6,210.2 L325.1,211.0 L325.6,211.9 L326.1,213.0 L326.6,214.2 L327.1,215.6 L327.6,217.0 L328.1,218.6 L328.6,220.3 L329.1,222.0 L329.6,223.9 L330.1,225.8 L330.6,227.9 L331.1,230.0 L331.6,232.1 L332.1,234.3 L332.6,236.6 L333.1,238.8 L333.6,241.2 L334.1,243.5 L334.6,245.9 L335.1,248.2 L335.6,250.6 L336.1,253.0 L336.6,255.3 L337.1,257.7 L337.6,260.0 L338.1,262.2 L338.6,264.5 L339.1,266.6 L339.6,268.7 L340.1,270.8 L340.6,272.8 L341.1,274.7 L341.6,276.5 L342.1,278.2 L342.6,279.8 L343.1,281.3 L343.6,282.7 L344.1,283.9 L344.6,285.0 L345.1,286.0 L345.6,286.9 L346.1,287.5 L346.6,288.1 L347.1,288.4 L347.6,288.3 L348.1,287.9 L348.6,287.3 L349.1,286.5 L349.6,285.5 L350.1,284.4 L350.6,283.1 L351.1,281.7 L351.6,280.2 L352.1,278.5 L352.6,276.7 L353.1,274.8 L353.6,272.9 L354.1,270.8 L354.6,268.7 L355.1,266.5 L355.6,264.2 L356.1,261.9 L356.6,259.6 L357.1,257.2 L357.6,254.8 L358.1,252.5 L358.6,250.1 L359.1,247.7 L359.6,245.4 L360.1,243.1 L360.6,240.8 L361.1,238.6 L361.6,236.4 L362.1,234.3 L362.6,232.3 L363.1,230.4 L363.6,228.6 L364.1,226.9 L364.6,225.3 L365.1,223.9 L365.6,222.5 L366.1,221.4 L366.6,220.4 L367.1,219.5 L367.6,218.8 L368.1,218.4 L368.6,218.1 L369.1,218.3 L369.6,218.7 L370.1,219.3 L370.6,219.9 L371.1,220.7 L371.6,221.6 L372.1,222.7 L372.6,223.8 L373.1,225.0 L373.6,226.4 L374.1,227.8 L374.6,229.3 L375.1,230.8 L375.6,232.5 L376.1,234.1 L376.6,235.8 L377.1,237.6 L377.6,239.4 L378.1,241.2 L378.6,243.1 L379.1,244.9 L379.6,246.8 L380.1,248.6 L380.6,250.4 L381.1,252.3 L381.6,254.1 L382.1,255.8 L382.6,257.5 L383.1,259.2 L383.6,260.8 L384.1,262.4 L384.6,263.9 L385.1,265.3 L385.6,266.6 L386.1,267.8 L386.6,269.0 L387.1,270.0 L387.6,270.9 L388.1,271.7 L388.6,272.4 L389.1,272.9 L389.6,273.3 L390.1,273.5 L390.6,273.3 L391.1,272.9 L391.6,272.4 L392.1,271.8 L392.6,271.0 L393.1,270.1 L393.6,269.1 L394.1,268.0 L394.6,266.8 L395.1,265.5 L395.6,264.2 L396.1,262.7 L396.6,261.2 L397.1,259.6 L397.6,257.9 L398.1,256.2 L398.6,254.4 L399.1,252.6 L399.6,250.8 L400.1,248.9 L400.6,247.0 L401.1,245.1 L401.6,243.2 L402.1,241.2 L402.6,239.3 L403.1,237.4 L403.6,235.5 L404.1,233.6 L404.6,231.8 L405.1,229.9 L405.6,228.2 L406.1,226.4 L406.6,224.7 L407.1,223.1 L407.6,221.6 L408.1,220.1 L408.6,218.7 L409.1,217.3 L409.6,216.1 L410.1,215.0 L410.6,213.9 L411.1,213.0 L411.6,212.2 L412.1,211.5 L412.6,211.0 L413.1,210.5 L413.6,210.3 L414.1,210.4 L414.6,210.7 L415.1,211.2 L415.6,211.8 L416.1,212.6 L416.6,213.5 L417.1,214.5 L417.6,215.7 L418.1,216.9 L418.6,218.3 L419.1,219.7 L419.6,221.2 L420.1,222.8 L420.6,224.5 L421.1,226.3 L421.6,228.1 L422.1,230.0 L422.6,232.0 L423.1,233.9 L423.6,236.0 L424.1,238.0 L424.6,240.1 L425.1,242.3 L425.6,244.4 L426.1,246.5 L426.6,248.7 L427.1,250.8 L427.6,253.0 L428.1,255.1 L428.6,257.2 L429.1,259.3 L429.6,261.4 L430.1,263.4 L430.6,265.4 L431.1,267.3 L431.6,269.1 L432.1,271.0 L432.6,272.7 L433.1,274.4 L433.6,275.9 L434.1,277.4 L434.6,278.8 L435.1,280.2 L435.6,281.4 L436.1,282.4 L436.6,283.4 L437.1,284.3 L437.6,285.0 L438.1,285.6 L438.6,286.0 L439.1,286.3 L439.6,286.2 L440.1,285.9 L440.6,285.4 L441.1,284.8 L441.6,284.1 L442.1,283.2 L442.6,282.2 L443.1,281.1 L443.6,280.0 L444.1,278.7 L444.6,277.3 L445.1,275.8 L445.6,274.3 L446.1,272.7 L446.6,271.0 L447.1,269.2 L447.6,267.4 L448.1,265.5 L448.6,263.6 L449.1,261.7 L449.6,259.7 L450.1,257.7 L450.6,255.7 L451.1,253.6 L451.6,251.5 L452.1,249.5 L452.6,247.4 L453.1,245.3 L453.6,243.3 L454.1,241.2 L454.6,239.2 L455.1,237.2 L455.6,235.3 L456.1,233.4 L456.6,231.5 L457.1,229.7 L457.6,227.9 L458.1,226.2 L458.6,224.6 L459.1,223.1 L459.6,221.6 L460.1,220.2 L460.6,218.9 L461.1,217.7 L461.6,216.6 L462.1,215.6 L462.6,214.7 L463.1,214.0 L463.6,213.3 L464.1,212.8 L464.6,212.5 L465.1,212.3 L465.6,212.6 L466.1,213.1 L466.6,213.7 L467.1,214.4 L467.6,215.3 L468.1,216.3 L468.6,217.4 L469.1,218.6 L469.6,220.0 L470.1,221.4 L470.6,222.9 L471.1,224.6 L471.6,226.3 L472.1,228.0 L472.6,229.9 L473.1,231.8 L473.6,233.7 L474.1,235.7 L474.6,237.7 L475.1,239.8 L475.6,241.9 L476.1,244.0 L476.6,246.1 L477.1,248.2 L477.6,250.3 L478.1,252.4 L478.6,254.4 L479.1,256.5 L479.6,258.5 L480.1,260.4 L480.6,262.4 L481.1,264.2 L481.6,266.0 L482.1,267.7 L482.6,269.4 L483.1,271.0 L483.6,272.4 L484.1,273.8 L484.6,275.1 L485.1,276.3 L485.6,277.3 L486.1,278.2 L486.6,279.0 L487.1,279.7 L487.6,280.2 L488.1,280.5 L488.6,280.5 L489.1,280.1 L489.6,279.4 L490.1,278.6 L490.6,277.5 L491.1,276.3 L491.6,274.9 L492.1,273.3 L492.6,271.6 L493.1,269.7 L493.6,267.8 L494.1,265.6 L494.6,263.4 L495.1,261.1 L495.6,258.7 L496.1,256.3 L496.6,253.7 L497.1,251.1 L497.6,248.5 L498.1,245.8 L498.6,243.1 L499.1,240.4 L499.6,237.6 L500.1,234.9 L500.6,232.2 L501.1,229.5 L501.6,226.9 L502.1,224.3 L502.6,221.8 L503.1,219.3 L503.6,217.0 L504.1,214.7 L504.6,212.5 L505.1,210.4 L505.6,208.5 L506.1,206.7 L506.6,205.0 L507.1,203.5 L507.6,202.1 L508.1,200.9 L508.6,199.9 L509.1,199.1 L509.6,198.5 L510.1,198.2 L510.6,198.3 L511.1,198.6 L511.6,199.0 L512.1,199.6 L512.6,200.3 L513.1,201.0 L513.6,201.9 L514.1,202.9 L514.6,204.0 L515.1,205.1 L515.6,206.4 L516.1,207.7 L516.6,209.0 L517.1,210.5 L517.6,212.0 L518.1,213.5 L518.6,215.1 L519.1,216.7 L519.6,218.4 L520.1,220.1 L520.6,221.8 L521.1,223.6 L521.6,225.3 L522.1,227.1 L522.6,228.9 L523.1,230.7 L523.6,232.4 L524.1,234.2 L524.6,235.9 L525.1,237.6 L525.6,239.3 L526.1,240.9 L526.6,242.5 L527.1,244.1 L527.6,245.6 L528.1,247.0 L528.6,248.4 L529.1,249.8 L529.6,251.0 L530.1,252.2 L530.6,253.3 L531.1,254.3 L531.6,255.2 L532.1,256.0 L532.6,256.7 L533.1,257.2 L533.6,257.7 L534.1,258.1 L534.6,258.3 L535.1,258.1 L535.6,257.8 L536.1,257.4 L536.6,256.9 L537.1,256.2 L537.6,255.5 L538.1,254.7 L538.6,253.8 L539.1,252.8 L539.6,251.7 L540.1,250.6 L540.6,249.4 L541.1,248.2 L541.6,246.9 L542.1,245.5 L542.6,244.1 L543.1,242.7 L543.6,241.3 L544.1,239.8 L544.6,238.3 L545.1,236.8 L545.6,235.3 L546.1,233.9 L546.6,232.4 L547.1,230.9 L547.6,229.5 L548.1,228.0 L548.6,226.7 L549.1,225.3 L549.6,224.0 L550.1,222.7 L550.6,221.5 L551.1,220.4 L551.6,219.3 L552.1,218.3 L552.6,217.4 L553.1,216.5 L553.6,215.8 L554.1,215.2 L554.6,214.6 L555.1,214.2 L555.6,213.8 L556.1,213.6 L556.6,213.8 L557.1,214.2 L557.6,214.7 L558.1,215.3 L558.6,216.1 L559.1,217.0 L559.6,218.0 L560.1,219.1 L560.6,220.3 L561.1,221.6 L561.6,223.0 L562.1,224.5 L562.6,226.1 L563.1,227.7 L563.6,229.4 L564.1,231.2 L564.6,233.0 L565.1,234.8 L565.6,236.7 L566.1,238.6 L566.6,240.6 L567.1,242.5 L567.6,244.5 L568.1,246.5 L568.6,248.4 L569.1,250.4 L569.6,252.4 L570.1,254.3 L570.6,256.2 L571.1,258.1 L571.6,259.9 L572.1,261.7 L572.6,263.4 L573.1,265.1 L573.6,266.7 L574.1,268.2 L574.6,269.7 L575.1,271.0 L575.6,272.3 L576.1,273.5 L576.6,274.6 L577.1,275.5 L577.6,276.4 L578.1,277.1 L578.6,277.7 L579.1,278.1 L579.6,278.4 L580.1,278.4 L580.6,278.1 L581.1,277.6 L581.6,277.0 L582.1,276.2 L582.6,275.3 L583.1,274.3 L583.6,273.2 L584.1,272.0 L584.6,270.6 L585.1,269.2 L585.6,267.7 L586.1,266.1 L586.6,264.4 L587.1,262.6 L587.6,260.8 L588.1,259.0 L588.6,257.0 L589.1,255.1 L589.6,253.0 L590.1,251.0 L590.6,248.9 L591.1,246.8 L591.6,244.7 L592.1,242.6 L592.6,240.5 L593.1,238.4 L593.6,236.2 L594.1,234.2 L594.6,232.1 L595.1,230.0 L595.6,228.0 L596.1,226.1 L596.6,224.2 L597.1,222.3 L597.6,220.5 L598.1,218.8 L598.6,217.1 L599.1,215.5 L599.6,214.0 L600.1,212.6 L600.6,211.3 L601.1,210.1 L601.6,209.0 L602.1,208.0 L602.6,207.1 L603.1,206.4 L603.6,205.8 L604.1,205.3 L604.6,205.0 L605.1,205.1 L605.6,205.5 L606.1,206.1 L606.6,206.9 L607.1,207.8 L607.6,208.9 L608.1,210.1 L608.6,211.5 L609.1,213.0 L609.6,214.6 L610.1,216.3 L610.6,218.1 L611.1,220.1 L611.6,222.1 L612.1,224.2 L612.6,226.3 L613.1,228.6 L613.6,230.9 L614.1,233.2 L614.6,235.6 L615.1,238.0 L615.6,240.4 L616.1,242.9 L616.6,245.4 L617.1,247.8 L617.6,250.3 L618.1,252.7 L618.6,255.1 L619.1,257.5 L619.6,259.9 L620.1,262.1 L620.6,264.4 L621.1,266.6 L621.6,268.7 L622.1,270.7 L622.6,272.6 L623.1,274.4 L623.6,276.2 L624.1,277.8 L624.6,279.3 L625.1,280.7 L625.6,281.9 L626.1,283.0 L626.6,283.9 L627.1,284.7 L627.6,285.3 L628.1,285.7 L628.6,285.8 L629.1,285.5 L629.6,285.0 L630.1,284.6 L630.3,284.6" fill="none" stroke="#c5504e" stroke-width="2" stroke-linejoin="round"/>
<path d="M131.6,233.3 L132.1,233.9 L132.6,234.8 L133.1,235.9 L133.6,237.2 L134.1,238.7 L134.6,240.5 L135.1,242.4 L135.6,244.5 L136.1,246.7 L136.6,249.1 L137.1,251.5 L137.6,254.1 L138.1,256.8 L138.6,259.6 L139.1,262.4 L139.6,265.2 L140.1,268.1 L140.6,271.0 L141.1,273.9 L141.6,276.7 L142.1,279.5 L142.6,282.3 L143.1,285.0 L143.6,287.6 L144.1,290.1 L144.6,292.5 L145.1,294.8 L145.6,296.9 L146.1,298.8 L146.6,300.6 L147.1,302.2 L147.6,303.6 L148.1,304.7 L148.6,305.6 L149.1,306.3 L149.6,305.7 L150.1,304.6 L150.6,303.1 L151.1,301.3 L151.6,299.2 L152.1,296.8 L152.6,294.2 L153.1,291.3 L153.6,288.2 L154.1,284.9 L154.6,281.5 L155.1,277.8 L155.6,274.0 L156.1,270.0 L156.6,266.0 L157.1,261.8 L157.6,257.5 L158.1,253.2 L158.6,248.9 L159.1,244.5 L159.6,240.0 L160.1,235.6 L160.6,231.3 L161.1,226.9 L161.6,222.6 L162.1,218.4 L162.6,214.3 L163.1,210.3 L163.6,206.4 L164.1,202.7 L164.6,199.2 L165.1,195.8 L165.6,192.6 L166.1,189.6 L166.6,186.9 L167.1,184.4 L167.6,182.2 L168.1,180.3 L168.6,178.7 L169.1,177.4 L169.6,176.4 L170.1,176.9 L170.6,178.0 L171.1,179.4 L171.6,181.1 L172.1,183.1 L172.6,185.4 L173.1,187.9 L173.6,190.6 L174.1,193.6 L174.6,196.7 L175.1,200.0 L175.6,203.5 L176.1,207.2 L176.6,210.9 L177.1,214.8 L177.6,218.7 L178.1,222.8 L178.6,226.9 L179.1,231.0 L179.6,235.2 L180.1,239.3 L180.6,243.5 L181.1,247.6 L181.6,251.7 L182.1,255.8 L182.6,259.7 L183.1,263.6 L183.6,267.3 L184.1,270.9 L184.6,274.4 L185.1,277.7 L185.6,280.8 L186.1,283.7 L186.6,286.4 L187.1,288.9 L187.6,291.1 L188.1,293.1 L188.6,294.8 L189.1,296.1 L189.6,297.2 L190.1,297.5 L190.6,296.6 L191.1,295.3 L191.6,293.8 L192.1,292.0 L192.6,289.9 L193.1,287.5 L193.6,285.0 L194.1,282.2 L194.6,279.2 L195.1,276.0 L195.6,272.7 L196.1,269.2 L196.6,265.6 L197.1,261.8 L197.6,258.0 L198.1,254.1 L198.6,250.1 L199.1,246.1 L199.6,242.1 L200.1,238.0 L200.6,234.0 L201.1,230.0 L201.6,226.0 L202.1,222.1 L202.6,218.2 L203.1,214.5 L203.6,210.8 L204.1,207.3 L204.6,203.9 L205.1,200.7 L205.6,197.7 L206.1,194.8 L206.6,192.2 L207.1,189.8 L207.6,187.6 L208.1,185.7 L208.6,184.1 L209.1,182.8 L209.6,181.7 L210.1,181.5 L210.6,182.4 L211.1,183.6 L211.6,185.0 L212.1,186.7 L212.6,188.7 L213.1,190.8 L213.6,193.2 L214.1,195.8 L214.6,198.6 L215.1,201.5 L215.6,204.6 L216.1,207.9 L216.6,211.2 L217.1,214.7 L217.6,218.3 L218.1,221.9 L218.6,225.6 L219.1,229.4 L219.6,233.2 L220.1,237.0 L220.6,240.8 L221.1,244.7 L221.6,248.5 L222.1,252.2 L222.6,255.9 L223.1,259.5 L223.6,263.1 L224.1,266.5 L224.6,269.9 L225.1,273.1 L225.6,276.1 L226.1,279.0 L226.6,281.8 L227.1,284.3 L227.6,286.6 L228.1,288.7 L228.6,290.6 L229.1,292.3 L229.6,293.6 L230.1,294.7 L230.6,295.5 L231.1,295.2 L231.6,294.6 L232.1,293.9 L232.6,293.0 L233.1,292.0 L233.6,290.8 L234.1,289.6 L234.6,288.2 L235.1,286.7 L235.6,285.1 L236.1,283.4 L236.6,281.6 L237.1,279.7 L237.6,277.8 L238.1,275.7 L238.6,273.7 L239.1,271.5 L239.6,269.4 L240.1,267.1 L240.6,264.9 L241.1,262.6 L241.6,260.3 L242.1,258.0 L242.6,255.7 L243.1,253.4 L243.6,251.1 L244.1,248.8 L244.6,246.5 L245.1,244.3 L245.6,242.1 L246.1,239.9 L246.6,237.8 L247.1,235.7 L247.6,233.7 L248.1,231.8 L248.6,230.0 L249.1,228.2 L249.6,226.6 L250.1,225.0 L250.6,223.6 L251.1,222.2 L251.6,221.0 L252.1,219.9 L252.6,218.9 L253.1,218.1 L253.6,217.5 L254.1,216.9 L254.6,217.0 L255.1,217.7 L255.6,218.5 L256.1,219.4 L256.6,220.6 L257.1,221.9 L257.6,223.3 L258.1,224.9 L258.6,226.6 L259.1,228.4 L259.6,230.3 L260.1,232.4 L260.6,234.5 L261.1,236.7 L261.6,239.0 L262.1,241.4 L262.6,243.9 L263.1,246.4 L263.6,249.0 L264.1,251.6 L264.6,254.2 L265.1,256.9 L265.6,259.6 L266.1,262.4 L266.6,265.1 L267.1,267.8 L267.6,270.5 L268.1,273.2 L268.6,275.9 L269.1,278.5 L269.6,281.2 L270.1,283.7 L270.6,286.2 L271.1,288.7 L271.6,291.0 L272.1,293.3 L272.6,295.5 L273.1,297.6 L273.6,299.7 L274.1,301.6 L274.6,303.3 L275.1,305.0 L275.6,306.5 L276.1,307.9 L276.6,309.2 L277.1,310.3 L277.6,311.2 L278.1,312.0 L278.6,312.5 L279.1,312.3 L279.6,311.5 L280.1,310.6 L280.6,309.5 L281.1,308.2 L281.6,306.8 L282.1,305.1 L282.6,303.4 L283.1,301.5 L283.6,299.4 L284.1,297.3 L284.6,295.0 L285.1,292.6 L285.6,290.1 L286.1,287.4 L286.6,284.7 L287.1,282.0 L287.6,279.1 L288.1,276.2 L288.6,273.2 L289.1,270.1 L289.6,267.0 L290.1,263.9 L290.6,260.8 L291.1,257.6 L291.6,254.4 L292.1,251.2 L292.6,248.0 L293.1,244.8 L293.6,241.6 L294.1,238.4 L294.6,235.3 L295.1,232.2 L295.6,229.2 L296.1,226.2 L296.6,223.2 L297.1,220.3 L297.6,217.6 L298.1,214.8 L298.6,212.2 L299.1,209.7 L299.6,207.3 L300.1,205.0 L300.6,202.8 L301.1,200.7 L301.6,198.8 L302.1,197.0 L302.6,195.3 L303.1,193.9 L303.6,192.6 L304.1,191.4 L304.6,190.5 L305.1,189.7 L305.6,189.3 L306.1,190.0 L306.6,190.9 L307.1,192.1 L307.6,193.5 L308.1,195.1 L308.6,196.9 L309.1,198.8 L309.6,201.0 L310.1,203.3 L310.6,205.8 L311.1,208.4 L311.6,211.1 L312.1,214.0 L312.6,216.9 L313.1,220.0 L313.6,223.2 L314.1,226.4 L314.6,229.7 L315.1,233.0 L315.6,236.4 L316.1,239.9 L316.6,243.3 L317.1,246.8 L317.6,250.3 L318.1,253.7 L318.6,257.2 L319.1,260.6 L319.6,264.0 L320.1,267.3 L320.6,270.6 L321.1,273.8 L321.6,276.9 L322.1,279.9 L322.6,282.8 L323.1,285.6 L323.6,288.3 L324.1,290.8 L324.6,293.2 L325.1,295.4 L325.6,297.5 L326.1,299.4 L326.6,301.1 L327.1,302.6 L327.6,303.8 L328.1,304.9 L328.6,305.7 L329.1,305.9 L329.6,305.0 L330.1,303.8 L330.6,302.4 L331.1,300.7 L331.6,298.7 L332.1,296.6 L332.6,294.2 L333.1,291.6 L333.6,288.8 L334.1,285.9 L334.6,282.7 L335.1,279.5 L335.6,276.1 L336.1,272.6 L336.6,269.0 L337.1,265.3 L337.6,261.5 L338.1,257.7 L338.6,253.8 L339.1,249.9 L339.6,246.0 L340.1,242.0 L340.6,238.1 L341.1,234.2 L341.6,230.3 L342.1,226.5 L342.6,222.7 L343.1,219.0 L343.6,215.4 L344.1,211.9 L344.6,208.5 L345.1,205.3 L345.6,202.2 L346.1,199.3 L346.6,196.5 L347.1,194.0 L347.6,191.6 L348.1,189.5 L348.6,187.6 L349.1,185.9 L349.6,184.5 L350.1,183.4 L350.6,182.5 L351.1,182.8 L351.6,183.7 L352.1,184.9 L352.6,186.3 L353.1,187.9 L353.6,189.7 L354.1,191.8 L354.6,194.0 L355.1,196.4 L355.6,198.9 L356.1,201.7 L356.6,204.5 L357.1,207.5 L357.6,210.6 L358.1,213.8 L358.6,217.1 L359.1,220.4 L359.6,223.8 L360.1,227.3 L360.6,230.8 L361.1,234.3 L361.6,237.9 L362.1,241.4 L362.6,244.9 L363.1,248.4 L363.6,251.8 L364.1,255.2 L364.6,258.5 L365.1,261.8 L365.6,264.9 L366.1,268.0 L366.6,270.9 L367.1,273.7 L367.6,276.4 L368.1,278.9 L368.6,281.2 L369.1,283.4 L369.6,285.3 L370.1,287.1 L370.6,288.6 L371.1,289.9 L371.6,290.9 L372.1,291.7 L372.6,291.6 L373.1,290.9 L373.6,290.0 L374.1,289.0 L374.6,287.7 L375.1,286.4 L375.6,284.8 L376.1,283.1 L376.6,281.3 L377.1,279.3 L377.6,277.2 L378.1,275.1 L378.6,272.8 L379.1,270.4 L379.6,267.9 L380.1,265.3 L380.6,262.7 L381.1,260.0 L381.6,257.3 L382.1,254.5 L382.6,251.7 L383.1,248.9 L383.6,246.0 L384.1,243.2 L384.6,240.3 L385.1,237.4 L385.6,234.6 L386.1,231.8 L386.6,229.0 L387.1,226.3 L387.6,223.6 L388.1,221.0 L388.6,218.4 L389.1,215.9 L389.6,213.6 L390.1,211.3 L390.6,209.1 L391.1,207.0 L391.6,205.0 L392.1,203.2 L392.6,201.5 L393.1,200.0 L393.6,198.6 L394.1,197.4 L394.6,196.3 L395.1,195.4 L395.6,194.8 L396.1,194.6 L396.6,195.3 L397.1,196.1 L397.6,197.2 L398.1,198.4 L398.6,199.8 L399.1,201.4 L399.6,203.1 L400.1,205.0 L400.6,207.0 L401.1,209.1 L401.6,211.4 L402.1,213.7 L402.6,216.2 L403.1,218.8 L403.6,221.4 L404.1,224.2 L404.6,227.0 L405.1,229.8 L405.6,232.7 L406.1,235.7 L406.6,238.7 L407.1,241.7 L407.6,244.7 L408.1,247.8 L408.6,250.8 L409.1,253.9 L409.6,256.9 L410.1,259.9 L410.6,262.9 L411.1,265.8 L411.6,268.7 L412.1,271.5 L412.6,274.2 L413.1,276.9 L413.6,279.5 L414.1,282.0 L414.6,284.3 L415.1,286.6 L415.6,288.8 L416.1,290.8 L416.6,292.7 L417.1,294.4 L417.6,296.0 L418.1,297.5 L418.6,298.7 L419.1,299.8 L419.6,300.7 L420.1,301.4 L420.6,301.4 L421.1,300.6 L421.6,299.7 L422.1,298.6 L422.6,297.3 L423.1,295.8 L423.6,294.1 L424.1,292.3 L424.6,290.3 L425.1,288.2 L425.6,285.9 L426.1,283.6 L426.6,281.1 L427.1,278.4 L427.6,275.7 L428.1,272.9 L428.6,270.0 L429.1,267.1 L429.6,264.0 L430.1,261.0 L430.6,257.8 L431.1,254.7 L431.6,251.5 L432.1,248.2 L432.6,245.0 L433.1,241.8 L433.6,238.5 L434.1,235.3 L434.6,232.1 L435.1,228.9 L435.6,225.8 L436.1,222.7 L436.6,219.7 L437.1,216.7 L437.6,213.8 L438.1,211.0 L438.6,208.3 L439.1,205.7 L439.6,203.2 L440.1,200.9 L440.6,198.6 L441.1,196.5 L441.6,194.5 L442.1,192.7 L442.6,191.0 L443.1,189.5 L443.6,188.2 L444.1,187.1 L444.6,186.2 L445.1,185.5 L445.6,185.6 L446.1,186.3 L446.6,187.3 L447.1,188.4 L447.6,189.7 L448.1,191.3 L448.6,192.9 L449.1,194.8 L449.6,196.8 L450.1,198.9 L450.6,201.2 L451.1,203.6 L451.6,206.1 L452.1,208.8 L452.6,211.5 L453.1,214.4 L453.6,217.3 L454.1,220.3 L454.6,223.3 L455.1,226.4 L455.6,229.6 L456.1,232.8 L456.6,236.1 L457.1,239.4 L457.6,242.6 L458.1,245.9 L458.6,249.2 L459.1,252.5 L459.6,255.8 L460.1,259.0 L460.6,262.2 L461.1,265.4 L461.6,268.5 L462.1,271.6 L462.6,274.5 L463.1,277.5 L463.6,280.3 L464.1,283.0 L464.6,285.6 L465.1,288.1 L465.6,290.5 L466.1,292.8 L466.6,294.9 L467.1,296.9 L467.6,298.7 L468.1,300.3 L468.6,301.8 L469.1,303.1 L469.6,304.3 L470.1,305.2 L470.6,305.9 L471.1,305.7 L471.6,304.8 L472.1,303.7 L472.6,302.4 L473.1,300.8 L473.6,299.0 L474.1,297.0 L474.6,294.8 L475.1,292.5 L475.6,289.9 L476.1,287.3 L476.6,284.4 L477.1,281.5 L477.6,278.4 L478.1,275.2 L478.6,271.9 L479.1,268.5 L479.6,265.0 L480.1,261.5 L480.6,257.9 L481.1,254.3 L481.6,250.6 L482.1,246.9 L482.6,243.2 L483.1,239.5 L483.6,235.8 L484.1,232.1 L484.6,228.5 L485.1,224.9 L485.6,221.4 L486.1,217.9 L486.6,214.5 L487.1,211.2 L487.6,208.0 L488.1,204.9 L488.6,201.9 L489.1,199.1 L489.6,196.4 L490.1,193.8 L490.6,191.5 L491.1,189.3 L491.6,187.3 L492.1,185.4 L492.6,183.9 L493.1,182.5 L493.6,181.3 L494.1,180.4 L494.6,180.2 L495.1,181.2 L495.6,182.5 L496.1,184.2 L496.6,186.2 L497.1,188.4 L497.6,191.0 L498.1,193.7 L498.6,196.8 L499.1,200.0 L499.6,203.4 L500.1,207.1 L500.6,210.8 L501.1,214.7 L501.6,218.8 L502.1,222.9 L502.6,227.1 L503.1,231.4 L503.6,235.8 L504.1,240.1 L504.6,244.5 L505.1,248.8 L505.6,253.1 L506.1,257.4 L506.6,261.6 L507.1,265.7 L507.6,269.8 L508.1,273.6 L508.6,277.4 L509.1,281.0 L509.6,284.4 L510.1,287.6 L510.6,290.5 L511.1,293.3 L511.6,295.8 L512.1,298.0 L512.6,299.9 L513.1,301.5 L513.6,302.8 L514.1,303.7 L514.6,303.3 L515.1,302.5 L515.6,301.6 L516.1,300.5 L516.6,299.3 L517.1,297.9 L517.6,296.3 L518.1,294.6 L518.6,292.8 L519.1,290.8 L519.6,288.7 L520.1,286.5 L520.6,284.2 L521.1,281.8 L521.6,279.3 L522.1,276.8 L522.6,274.1 L523.1,271.4 L523.6,268.6 L524.1,265.8 L524.6,263.0 L525.1,260.1 L525.6,257.1 L526.1,254.2 L526.6,251.3 L527.1,248.3 L527.6,245.3 L528.1,242.4 L528.6,239.5 L529.1,236.6 L529.6,233.7 L530.1,230.9 L530.6,228.1 L531.1,225.4 L531.6,222.7 L532.1,220.1 L532.6,217.6 L533.1,215.2 L533.6,212.9 L534.1,210.7 L534.6,208.6 L535.1,206.6 L535.6,204.7 L536.1,203.0 L536.6,201.4 L537.1,200.0 L537.6,198.7 L538.1,197.6 L538.6,196.6 L539.1,195.8 L539.6,195.3 L540.1,195.8 L540.6,196.6 L541.1,197.7 L541.6,198.9 L542.1,200.4 L542.6,202.0 L543.1,203.9 L543.6,205.9 L544.1,208.0 L544.6,210.3 L545.1,212.8 L545.6,215.3 L546.1,218.0 L546.6,220.7 L547.1,223.6 L547.6,226.5 L548.1,229.5 L548.6,232.6 L549.1,235.6 L549.6,238.8 L550.1,241.9 L550.6,245.1 L551.1,248.2 L551.6,251.4 L552.1,254.5 L552.6,257.6 L553.1,260.6 L553.6,263.6 L554.1,266.5 L554.6,269.3 L555.1,272.1 L555.6,274.7 L556.1,277.3 L556.6,279.7 L557.1,281.9 L557.6,284.0 L558.1,286.0 L558.6,287.8 L559.1,289.4 L559.6,290.9 L560.1,292.1 L560.6,293.1 L561.1,293.9 L561.6,294.1 L562.1,293.5 L562.6,292.7 L563.1,291.8 L563.6,290.7 L564.1,289.4 L564.6,287.9 L565.1,286.4 L565.6,284.6 L566.1,282.8 L566.6,280.8 L567.1,278.7 L567.6,276.6 L568.1,274.3 L568.6,271.9 L569.1,269.4 L569.6,266.9 L570.1,264.3 L570.6,261.6 L571.1,258.9 L571.6,256.1 L572.1,253.3 L572.6,250.4 L573.1,247.6 L573.6,244.7 L574.1,241.8 L574.6,238.8 L575.1,235.9 L575.6,233.1 L576.1,230.2 L576.6,227.3 L577.1,224.5 L577.6,221.7 L578.1,219.0 L578.6,216.4 L579.1,213.7 L579.6,211.2 L580.1,208.8 L580.6,206.4 L581.1,204.1 L581.6,201.9 L582.1,199.8 L582.6,197.9 L583.1,196.1 L583.6,194.3 L584.1,192.8 L584.6,191.4 L585.1,190.1 L585.6,189.0 L586.1,188.0 L586.6,187.2 L587.1,186.6 L587.6,187.1 L588.1,188.0 L588.6,189.2 L589.1,190.6 L589.6,192.3 L590.1,194.1 L590.6,196.2 L591.1,198.5 L591.6,200.9 L592.1,203.5 L592.6,206.3 L593.1,209.2 L593.6,212.2 L594.1,215.4 L594.6,218.6 L595.1,222.0 L595.6,225.4 L596.1,228.9 L596.6,232.5 L597.1,236.1 L597.6,239.7 L598.1,243.3 L598.6,247.0 L599.1,250.6 L599.6,254.2 L600.1,257.8 L600.6,261.3 L601.1,264.8 L601.6,268.2 L602.1,271.5 L602.6,274.7 L603.1,277.8 L603.6,280.8 L604.1,283.6 L604.6,286.3 L605.1,288.9 L605.6,291.2 L606.1,293.4 L606.6,295.4 L607.1,297.2 L607.6,298.7 L608.1,300.1 L608.6,301.1 L609.1,301.9 L609.6,301.7 L610.1,300.8 L610.6,299.6 L611.1,298.1 L611.6,296.4 L612.1,294.5 L612.6,292.3 L613.1,290.0 L613.6,287.4 L614.1,284.7 L614.6,281.8 L615.1,278.8 L615.6,275.6 L616.1,272.3 L616.6,268.9 L617.1,265.4 L617.6,261.8 L618.1,258.2 L618.6,254.5 L619.1,250.8 L619.6,247.1 L620.1,243.4 L620.6,239.6 L621.1,235.9 L621.6,232.3 L622.1,228.6 L622.6,225.1 L623.1,221.6 L623.6,218.3 L624.1,215.0 L624.6,211.8 L625.1,208.8 L625.6,206.0 L626.1,203.3 L626.6,200.8 L627.1,198.5 L627.6,196.4 L628.1,194.5 L628.6,192.8 L629.1,191.4 L629.6,190.3 L630.1,189.4 L630.3,189.2" fill="none" stroke="#9cbd5a" stroke-width="2" stroke-linejoin="round"/>
<text x="131.65" y="268.0" font-size="13" text-anchor="middle" fill="#222">0</text>
<text x="181.52" y="268.0" font-size="13" text-anchor="middle" fill="#222">100</text>
<text x="231.39" y="268.0" font-size="13" text-anchor="middle" fill="#222">200</text>
<text x="281.26" y="268.0" font-size="13" text-anchor="middle" fill="#222">300</text>
<text x="331.13" y="268.0" font-size="13" text-anchor="middle" fill="#222">400</text>
<text x="381.0" y="268.0" font-size="13" text-anchor="middle" fill="#222">500</text>
<text x="430.87" y="268.0" font-size="13" text-anchor="middle" fill="#222">600</text>
<text x="480.74" y="268.0" font-size="13" text-anchor="middle" fill="#222">700</text>
<text x="530.61" y="268.0" font-size="13" text-anchor="middle" fill="#222">800</text>
<text x="580.48" y="268.0" font-size="13" text-anchor="middle" fill="#222">900</text>
<text x="630.35" y="268.0" font-size="13" text-anchor="middle" fill="#222">1000</text>
<text transform="matrix(0.0000 -0.1244 0.1351 0.0000 78.2952 304.6978)" font-size="100" font-family='"Liberation Sans", sans-serif' font-weight="bold" fill="#000">Curvature (degree)</text>
<line x1="329.90" y1="316.80" x2="337.00" y2="316.80" stroke="#4a86c5" stroke-width="2"/>
<text transform="matrix(0.1254 0.0000 0.0000 0.1280 337.0356 322.5000)" font-size="100" font-family='"Liberation Sans", sans-serif' fill="#222">alpha</text>
<line x1="376.10" y1="316.80" x2="383.00" y2="316.80" stroke="#c5504e" stroke-width="2"/>
<text transform="matrix(0.1298 0.0000 0.0000 0.1280 382.9564 322.5000)" font-size="100" font-family='"Liberation Sans", sans-serif' fill="#222">beta</text>
<line x1="416.60" y1="316.80" x2="423.50" y2="316.80" stroke="#9cbd5a" stroke-width="2"/>
<text transform="matrix(0.1269 0.0000 0.0000 0.1280 423.3926 322.5000)" font-size="100" font-family='"Liberation Sans", sans-serif' fill="#222">gamma</text>
<line x1="129.40" y1="547.40" x2="651.20" y2="547.40" stroke="#d9d9d9" stroke-width="1.25"/>
<text x="120.8" y="553.7" font-size="13" text-anchor="end" fill="#222">-30</text>
<line x1="129.40" y1="521.33" x2="651.20" y2="521.33" stroke="#d9d9d9" stroke-width="1.25"/>
<text x="120.8" y="527.63" font-size="13" text-anchor="end" fill="#222">-20</text>
<line x1="129.40" y1="495.27" x2="651.20" y2="495.27" stroke="#d9d9d9" stroke-width="1.25"/>
<text x="120.8" y="501.57" font-size="13" text-anchor="end" fill="#222">-10</text>
<line x1="129.40" y1="469.20" x2="651.20" y2="469.20" stroke="#d9d9d9" stroke-width="1.25"/>
<text x="120.8" y="475.5" font-size="13" text-anchor="end" fill="#222">0</text>
<line x1="129.40" y1="443.13" x2="651.20" y2="443.13" stroke="#d9d9d9" stroke-width="1.25"/>
<text x="120.8" y="449.43" font-size="13" text-anchor="end" fill="#222">10</text>
<line x1="129.40" y1="417.07" x2="651.20" y2="417.07" stroke="#d9d9d9" stroke-width="1.25"/>
<text x="120.8" y="423.37" font-size="13" text-anchor="end" fill="#222">20</text>
<line x1="129.40" y1="391.00" x2="651.20" y2="391.00" stroke="#d9d9d9" stroke-width="1.25"/>
<text x="120.8" y="397.3" font-size="13" text-anchor="end" fill="#222">30</text>
<rect x="448.1" y="545" width="31.2" height="5" fill="#fff"/>
<line x1="133.70" y1="391.00" x2="133.70" y2="547.40" stroke="#cfcfcf" stroke-width="1.25"/>
<line x1="133.70" y1="469.20" x2="133.70" y2="473.50" stroke="#cfcfcf" stroke-width="1.25"/>
<line x1="185.45" y1="469.20" x2="185.45" y2="473.50" stroke="#cfcfcf" stroke-width="1.25"/>
<line x1="237.20" y1="469.20" x2="237.20" y2="473.50" stroke="#cfcfcf" stroke-width="1.25"/>
<line x1="288.95" y1="469.20" x2="288.95" y2="473.50" stroke="#cfcfcf" stroke-width="1.25"/>
<line x1="340.70" y1="469.20" x2="340.70" y2="473.50" stroke="#cfcfcf" stroke-width="1.25"/>
<line x1="392.45" y1="469.20" x2="392.45" y2="473.50" stroke="#cfcfcf" stroke-width="1.25"/>
<line x1="444.20" y1="469.20" x2="444.20" y2="473.50" stroke="#cfcfcf" stroke-width="1.25"/>
<line x1="495.95" y1="469.20" x2="495.95" y2="473.50" stroke="#cfcfcf" stroke-width="1.25"/>
<line x1="547.70" y1="469.20" x2="547.70" y2="473.50" stroke="#cfcfcf" stroke-width="1.25"/>
<line x1="599.45" y1="469.20" x2="599.45" y2="473.50" stroke="#cfcfcf" stroke-width="1.25"/>
<line x1="651.20" y1="469.20" x2="651.20" y2="473.50" stroke="#cfcfcf" stroke-width="1.25"/>
<path d="M133.7,468.8 L134.2,459.6 L134.7,450.3 L135.2,442.0 L135.7,435.8 L136.2,432.8 L136.7,430.9 L137.2,429.2 L137.7,427.5 L138.2,426.0 L138.7,424.5 L139.2,423.2 L139.7,422.0 L140.2,420.9 L140.7,419.9 L141.2,419.0 L141.7,418.2 L142.2,417.5 L142.7,417.0 L143.2,416.5 L143.7,416.1 L144.2,415.8 L144.7,415.6 L145.2,415.5 L145.7,415.5 L146.2,415.9 L146.7,416.6 L147.2,417.7 L147.7,419.0 L148.2,420.5 L148.7,422.2 L149.2,423.9 L149.7,425.7 L150.2,427.6 L150.7,429.8 L151.2,432.5 L151.7,435.6 L152.2,439.1 L152.7,442.8 L153.2,446.8 L153.7,451.0 L154.2,455.3 L154.7,459.7 L155.2,464.2 L155.7,468.6 L156.2,473.0 L156.7,477.3 L157.2,481.4 L157.7,485.3 L158.2,488.9 L158.7,492.2 L159.2,495.2 L159.7,497.8 L160.2,500.2 L160.7,502.4 L161.2,504.5 L161.7,506.6 L162.2,508.6 L162.7,510.7 L163.2,512.8 L163.7,515.1 L164.2,517.5 L164.7,520.4 L165.2,524.3 L165.7,526.6 L166.2,525.8 L166.7,524.1 L167.2,523.6 L167.7,524.8 L168.2,527.1 L168.7,529.7 L169.2,531.8 L169.7,532.7 L170.2,531.3 L170.7,528.0 L171.2,524.3 L171.7,521.7 L172.2,520.7 L172.7,520.1 L173.2,519.5 L173.7,518.6 L174.2,517.2 L174.7,515.2 L175.2,512.7 L175.7,509.7 L176.2,506.3 L176.7,502.5 L177.2,498.4 L177.7,494.0 L178.2,487.1 L178.7,478.2 L179.2,468.9 L179.7,460.9 L180.2,455.8 L180.7,452.8 L181.2,449.9 L181.7,447.2 L182.2,444.6 L182.7,442.2 L183.2,439.9 L183.7,437.7 L184.2,435.7 L184.7,433.8 L185.2,432.1 L185.7,430.6 L186.2,429.2 L186.7,427.9 L187.2,426.9 L187.7,426.0 L188.2,425.3 L188.7,424.7 L189.2,424.4 L189.7,424.2 L190.2,424.2 L190.7,424.3 L191.2,424.5 L191.7,424.8 L192.2,425.2 L192.7,425.7 L193.2,426.3 L193.7,427.0 L194.2,427.7 L194.7,428.5 L195.2,429.4 L195.7,430.3 L196.2,431.3 L196.7,432.3 L197.2,433.4 L197.7,434.6 L198.2,435.7 L198.7,436.9 L199.2,438.1 L199.7,439.4 L200.2,440.7 L200.7,442.4 L201.2,444.5 L201.7,446.9 L202.2,449.5 L202.7,452.5 L203.2,455.6 L203.7,458.9 L204.2,462.4 L204.7,465.9 L205.2,469.5 L205.7,473.1 L206.2,476.7 L206.7,480.3 L207.2,483.7 L207.7,487.0 L208.2,490.0 L208.7,492.9 L209.2,495.5 L209.7,498.1 L210.2,500.6 L210.7,503.2 L211.2,505.7 L211.7,508.2 L212.2,510.6 L212.7,513.0 L213.2,515.2 L213.7,517.3 L214.2,519.3 L214.7,521.1 L215.2,522.7 L215.7,524.1 L216.2,525.4 L216.7,526.7 L217.2,527.9 L217.7,529.2 L218.2,530.3 L218.7,531.3 L219.2,532.2 L219.7,532.9 L220.2,533.4 L220.7,533.7 L221.2,533.7 L221.7,533.4 L222.2,532.8 L222.7,532.0 L223.2,531.0 L223.7,529.9 L224.2,528.6 L224.7,527.2 L225.2,525.4 L225.7,522.5 L226.2,518.7 L226.7,514.2 L227.2,509.4 L227.7,504.6 L228.2,500.0 L228.7,496.0 L229.2,492.6 L229.7,489.2 L230.2,486.0 L230.7,482.8 L231.2,479.7 L231.7,476.6 L232.2,473.6 L232.7,470.6 L233.2,467.8 L233.7,464.9 L234.2,462.1 L234.7,459.4 L235.2,456.7 L235.7,454.1 L236.2,451.5 L236.7,449.0 L237.2,446.5 L237.7,444.1 L238.2,441.7 L238.7,439.2 L239.2,436.5 L239.7,433.8 L240.2,431.0 L240.7,428.2 L241.2,425.5 L241.7,422.9 L242.2,420.4 L242.7,418.1 L243.2,415.9 L243.7,414.1 L244.2,412.5 L244.7,411.3 L245.2,410.4 L245.7,410.0 L246.2,410.0 L246.7,410.5 L247.2,411.3 L247.7,412.4 L248.2,413.7 L248.7,415.3 L249.2,417.0 L249.7,418.8 L250.2,420.6 L250.7,422.5 L251.2,424.3 L251.7,426.3 L252.2,428.5 L252.7,430.9 L253.2,433.6 L253.7,436.4 L254.2,439.5 L254.7,442.6 L255.2,445.9 L255.7,449.3 L256.2,452.7 L256.7,456.2 L257.2,459.6 L257.7,463.1 L258.2,466.5 L258.7,469.9 L259.2,473.2 L259.7,476.3 L260.2,479.4 L260.7,482.2 L261.2,484.9 L261.7,487.4 L262.2,489.7 L262.7,492.1 L263.2,494.5 L263.7,496.9 L264.2,499.2 L264.7,501.5 L265.2,503.7 L265.7,505.7 L266.2,507.6 L266.7,509.4 L267.2,510.9 L267.7,512.3 L268.2,513.4 L268.7,514.4 L269.2,515.4 L269.7,516.4 L270.2,517.3 L270.7,518.1 L271.2,518.8 L271.7,519.5 L272.2,520.0 L272.7,520.4 L273.2,520.6 L273.7,520.6 L274.2,520.4 L274.7,520.1 L275.2,519.6 L275.7,519.0 L276.2,518.2 L276.7,517.4 L277.2,516.5 L277.7,515.6 L278.2,514.6 L278.7,513.6 L279.2,512.5 L279.7,511.0 L280.2,509.3 L280.7,507.3 L281.2,505.1 L281.7,502.7 L282.2,500.2 L282.7,497.5 L283.2,494.8 L283.7,492.0 L284.2,489.2 L284.7,486.5 L285.2,483.8 L285.7,481.2 L286.2,478.7 L286.7,476.3 L287.2,474.2 L287.7,472.3 L288.2,470.6 L288.7,469.0 L289.2,467.3 L289.7,465.5 L290.2,463.8 L290.7,462.1 L291.2,460.4 L291.7,458.7 L292.2,457.0 L292.7,455.3 L293.2,453.7 L293.7,452.2 L294.2,450.7 L294.7,449.2 L295.2,447.9 L295.7,446.6 L296.2,445.4 L296.7,444.3 L297.2,443.3 L297.7,442.4 L298.2,441.6 L298.7,441.0 L299.2,440.5 L299.7,440.2 L300.2,440.0 L300.7,439.9 L301.2,440.0 L301.7,440.1 L302.2,440.2 L302.7,440.4 L303.2,440.6 L303.7,440.9 L304.2,441.2 L304.7,441.5 L305.2,441.9 L305.7,442.3 L306.2,442.8 L306.7,443.2 L307.2,443.7 L307.7,444.3 L308.2,445.2 L308.7,446.5 L309.2,448.0 L309.7,449.7 L310.2,451.5 L310.7,453.5 L311.2,455.5 L311.7,457.5 L312.2,459.4 L312.7,461.2 L313.2,463.0 L313.7,464.9 L314.2,466.8 L314.7,468.7 L315.2,470.6 L315.7,472.6 L316.2,474.6 L316.7,476.7 L317.2,478.7 L317.7,480.8 L318.2,483.0 L318.7,485.1 L319.2,487.3 L319.7,489.5 L320.2,491.9 L320.7,494.3 L321.2,496.7 L321.7,499.3 L322.2,501.8 L322.7,504.3 L323.2,506.9 L323.7,509.3 L324.2,511.8 L324.7,514.1 L325.2,516.4 L325.7,518.5 L326.2,520.7 L326.7,523.0 L327.2,525.4 L327.7,527.8 L328.2,530.2 L328.7,532.5 L329.2,534.6 L329.7,536.4 L330.2,537.9 L330.7,539.0 L331.2,539.6 L331.7,539.3 L332.2,533.6 L332.7,524.3 L333.2,515.4 L333.7,510.6 L334.2,508.8 L334.7,507.5 L335.2,506.4 L335.7,505.6 L336.2,504.8 L336.7,503.9 L337.2,502.8 L337.7,501.3 L338.2,499.5 L338.7,497.5 L339.2,495.3 L339.7,492.8 L340.2,490.1 L340.7,487.2 L341.2,484.1 L341.7,480.8 L342.2,476.7 L342.7,471.9 L343.2,466.7 L343.7,461.1 L344.2,455.5 L344.7,449.9 L345.2,444.6 L345.7,439.8 L346.2,435.6 L346.7,431.4 L347.2,427.3 L347.7,423.4 L348.2,419.9 L348.7,416.8 L349.2,414.4 L349.7,412.7 L350.2,411.1 L350.7,409.6 L351.2,408.2 L351.7,406.9 L352.2,405.9 L352.7,405.1 L353.2,404.5 L353.7,404.2 L354.2,404.4 L354.7,405.5 L355.2,407.4 L355.7,409.6 L356.2,412.5 L356.7,417.8 L357.2,424.8 L357.7,432.3 L358.2,438.8 L358.7,443.2 L359.2,446.3 L359.7,448.9 L360.2,451.3 L360.7,453.3 L361.2,455.2 L361.7,457.0 L362.2,458.8 L362.7,460.8 L363.2,462.9 L363.7,465.3 L364.2,468.2 L364.7,471.3 L365.2,474.8 L365.7,478.5 L366.2,482.3 L366.7,486.2 L367.2,490.0 L367.7,493.8 L368.2,497.3 L368.7,500.5 L369.2,503.5 L369.7,506.1 L370.2,508.6 L370.7,510.9 L371.2,513.2 L371.7,515.4 L372.2,517.6 L372.7,519.8 L373.2,522.1 L373.7,524.8 L374.2,527.7 L374.7,529.8 L375.2,530.6 L375.7,530.1 L376.2,528.9 L376.7,527.3 L377.2,525.3 L377.7,523.2 L378.2,520.1 L378.7,515.9 L379.2,511.2 L379.7,506.2 L380.2,501.3 L380.7,496.9 L381.2,493.3 L381.7,489.9 L382.2,486.6 L382.7,483.5 L383.2,480.4 L383.7,477.5 L384.2,474.6 L384.7,471.8 L385.2,468.9 L385.7,466.1 L386.2,463.3 L386.7,460.5 L387.2,457.5 L387.7,454.5 L388.2,451.3 L388.7,447.9 L389.2,444.4 L389.7,440.9 L390.2,437.5 L390.7,434.3 L391.2,431.2 L391.7,428.5 L392.2,426.2 L392.7,424.4 L393.2,422.9 L393.7,421.4 L394.2,420.1 L394.7,418.9 L395.2,418.1 L395.7,417.6 L396.2,417.7 L396.7,418.3 L397.2,419.4 L397.7,420.8 L398.2,422.5 L398.7,424.3 L399.2,426.3 L399.7,428.4 L400.2,431.1 L400.7,434.4 L401.2,438.2 L401.7,442.2 L402.2,446.5 L402.7,450.9 L403.2,455.2 L403.7,459.4 L404.2,463.4 L404.7,467.0 L405.2,470.5 L405.7,474.2 L406.2,477.9 L406.7,481.7 L407.2,485.4 L407.7,489.1 L408.2,492.6 L408.7,495.9 L409.2,499.0 L409.7,501.9 L410.2,504.4 L410.7,506.6 L411.2,508.4 L411.7,510.0 L412.2,511.5 L412.7,513.1 L413.2,514.5 L413.7,515.9 L414.2,517.2 L414.7,518.4 L415.2,519.5 L415.7,520.4 L416.2,521.1 L416.7,521.7 L417.2,522.0 L417.7,522.2 L418.2,521.8 L418.7,520.8 L419.2,519.3 L419.7,517.5 L420.2,515.4 L420.7,513.3 L421.2,511.3 L421.7,509.5 L422.2,507.9 L422.7,506.3 L423.2,504.8 L423.7,503.3 L424.2,501.7 L424.7,500.2 L425.2,498.6 L425.7,497.0 L426.2,495.3 L426.7,493.5 L427.2,491.6 L427.7,489.6 L428.2,487.4 L428.7,484.9 L429.2,481.9 L429.7,478.5 L430.2,474.8 L430.7,470.9 L431.2,466.9 L431.7,462.8 L432.2,458.8 L432.7,455.0 L433.2,451.4 L433.7,448.1 L434.2,445.3 L434.7,443.0 L435.2,441.1 L435.7,439.2 L436.2,437.3 L436.7,435.5 L437.2,433.7 L437.7,432.1 L438.2,430.5 L438.7,429.0 L439.2,427.7 L439.7,426.6 L440.2,425.7 L440.7,424.9 L441.2,424.4 L441.7,424.2 L442.2,424.2 L442.7,424.5 L443.2,425.0 L443.7,425.8 L444.2,426.7 L444.7,427.9 L445.2,429.1 L445.7,430.5 L446.2,431.9 L446.7,433.4 L447.2,435.0 L447.7,436.5 L448.2,438.1 L448.7,440.0 L449.2,442.2 L449.7,444.7 L450.2,447.4 L450.7,450.3 L451.2,453.4 L451.7,456.5 L452.2,459.8 L452.7,463.1 L453.2,466.4 L453.7,469.6 L454.2,472.7 L454.7,475.8 L455.2,478.6 L455.7,481.3 L456.2,483.8 L456.7,486.3 L457.2,488.8 L457.7,491.3 L458.2,493.8 L458.7,496.1 L459.2,498.4 L459.7,500.5 L460.2,502.5 L460.7,504.3 L461.2,506.0 L461.7,507.6 L462.2,509.1 L462.7,510.5 L463.2,511.7 L463.7,512.8 L464.2,513.5 L464.7,514.0 L465.2,514.5 L465.7,515.0 L466.2,515.4 L466.7,515.7 L467.2,515.9 L467.7,516.1 L468.2,516.1 L468.7,516.1 L469.2,516.0 L469.7,515.9 L470.2,515.7 L470.7,515.4 L471.2,515.1 L471.7,514.8 L472.2,514.5 L472.7,514.1 L473.2,513.6 L473.7,513.2 L474.2,512.7 L474.7,512.2 L475.2,511.6 L475.7,510.9 L476.2,509.9 L476.7,508.8 L477.2,507.5 L477.7,506.1 L478.2,504.5 L478.7,502.8 L479.2,500.9 L479.7,498.9 L480.2,496.8 L480.7,493.8 L481.2,490.0 L481.7,485.7 L482.2,481.1 L482.7,476.4 L483.2,472.0 L483.7,467.9 L484.2,464.4 L484.7,461.0 L485.2,457.6 L485.7,454.3 L486.2,451.1 L486.7,448.0 L487.2,445.0 L487.7,442.2 L488.2,439.5 L488.7,437.0 L489.2,434.6 L489.7,432.4 L490.2,430.1 L490.7,428.0 L491.2,425.9 L491.7,424.1 L492.2,422.4 L492.7,421.1 L493.2,420.1 L493.7,419.2 L494.2,418.4 L494.7,417.7 L495.2,417.0 L495.7,416.5 L496.2,416.1 L496.7,415.8 L497.2,415.8 L497.7,415.9 L498.2,416.2 L498.7,416.7 L499.2,417.4 L499.7,418.1 L500.2,418.9 L500.7,419.7 L501.2,420.6 L501.7,421.6 L502.2,422.9 L502.7,424.5 L503.2,426.2 L503.7,428.1 L504.2,430.2 L504.7,432.4 L505.2,434.7 L505.7,437.1 L506.2,439.6 L506.7,442.3 L507.2,445.4 L507.7,448.9 L508.2,452.6 L508.7,456.6 L509.2,460.6 L509.7,464.7 L510.2,468.7 L510.7,472.9 L511.2,477.5 L511.7,482.2 L512.2,487.0 L512.7,491.7 L513.2,496.0 L513.7,500.0 L514.2,503.3 L514.7,506.3 L515.2,509.1 L515.7,511.8 L516.2,514.3 L516.7,516.5 L517.2,518.5 L517.7,520.3 L518.2,521.7 L518.7,523.0 L519.2,524.2 L519.7,525.4 L520.2,526.5 L520.7,527.4 L521.2,528.0 L521.7,528.4 L522.2,528.5 L522.7,528.4 L523.2,528.2 L523.7,527.8 L524.2,527.4 L524.7,526.8 L525.2,526.2 L525.7,525.4 L526.2,524.6 L526.7,523.3 L527.2,519.4 L527.7,512.9 L528.2,505.1 L528.7,496.9 L529.2,489.5 L529.7,483.7 L530.2,480.2 L530.7,477.0 L531.2,473.9 L531.7,471.2 L532.2,468.8 L532.7,466.9 L533.2,465.6 L533.7,464.9 L534.2,464.9 L534.7,464.9 L535.2,464.9 L535.7,464.9 L536.2,464.9 L536.7,464.7 L537.2,463.4 L537.7,461.0 L538.2,458.1 L538.7,455.2 L539.2,452.7 L539.7,450.3 L540.2,447.9 L540.7,445.3 L541.2,442.9 L541.7,440.6 L542.2,438.6 L542.7,436.9 L543.2,435.7 L543.7,434.6 L544.2,433.5 L544.7,432.6 L545.2,431.7 L545.7,431.0 L546.2,430.5 L546.7,430.3 L547.2,430.2 L547.7,430.4 L548.2,430.7 L548.7,431.2 L549.2,431.9 L549.7,432.6 L550.2,433.4 L550.7,434.3 L551.2,435.2 L551.7,436.2 L552.2,437.2 L552.7,438.3 L553.2,439.7 L553.7,441.3 L554.2,443.0 L554.7,444.9 L555.2,446.9 L555.7,448.9 L556.2,450.9 L556.7,452.8 L557.2,454.7 L557.7,456.3 L558.2,457.8 L558.7,459.2 L559.2,460.6 L559.7,462.0 L560.2,463.3 L560.7,464.7 L561.2,466.2 L561.7,467.7 L562.2,469.4 L562.7,471.2 L563.2,473.3 L563.7,475.6 L564.2,478.1 L564.7,480.8 L565.2,483.7 L565.7,486.7 L566.2,489.7 L566.7,492.7 L567.2,495.7 L567.7,498.6 L568.2,501.4 L568.7,504.3 L569.2,507.3 L569.7,510.5 L570.2,513.6 L570.7,516.7 L571.2,519.6 L571.7,522.4 L572.2,524.9 L572.7,527.2 L573.2,529.0 L573.7,530.6 L574.2,532.2 L574.7,533.8 L575.2,535.1 L575.7,536.2 L576.2,536.9 L576.7,537.2 L577.2,534.1 L577.7,526.9 L578.2,518.4 L578.7,511.3 L579.2,504.0 L579.7,496.9 L580.2,491.3 L580.7,487.5 L581.2,484.3 L581.7,482.3 L582.2,482.1 L582.7,482.9 L583.2,484.0 L583.7,484.6 L584.2,483.7 L584.7,480.5 L585.2,475.8 L585.7,470.5 L586.2,465.5 L586.7,461.2 L587.2,456.8 L587.7,452.2 L588.2,447.6 L588.7,443.0 L589.2,438.6 L589.7,434.4 L590.2,430.5 L590.7,427.0 L591.2,423.7 L591.7,420.5 L592.2,417.6 L592.7,415.0 L593.2,412.7 L593.7,410.3 L594.2,408.0 L594.7,406.1 L595.2,404.8 L595.7,404.5 L596.2,407.1 L596.7,412.4 L597.2,418.8 L597.7,424.9 L598.2,429.2 L598.7,431.5 L599.2,433.4 L599.7,434.9 L600.2,436.3 L600.7,437.6 L601.2,439.0 L601.7,440.6 L602.2,442.6 L602.7,445.1 L603.2,448.1 L603.7,451.4 L604.2,454.9 L604.7,458.6 L605.2,462.3 L605.7,465.9 L606.2,469.3 L606.7,472.8 L607.2,476.4 L607.7,480.1 L608.2,483.7 L608.7,487.1 L609.2,490.4 L609.7,493.3 L610.2,495.7 L610.7,498.0 L611.2,500.2 L611.7,502.3 L612.2,504.2 L612.7,505.9 L613.2,507.5 L613.7,508.8 L614.2,510.0 L614.7,511.2 L615.2,512.3 L615.7,513.2 L616.2,513.8 L616.7,514.0 L617.2,513.9 L617.7,513.5 L618.2,512.9 L618.7,512.2 L619.2,511.3 L619.7,510.3 L620.2,509.1 L620.7,507.9 L621.2,506.1 L621.7,503.6 L622.2,500.5 L622.7,496.9 L623.2,493.0 L623.7,488.9 L624.2,484.7 L624.7,480.3 L625.2,475.0 L625.7,469.0 L626.2,462.8 L626.7,457.2 L627.2,452.6 L627.7,448.8 L628.2,445.3 L628.7,442.1 L629.2,439.3 L629.7,437.1 L629.7,436.8" fill="none" stroke="#55692d" stroke-width="1.7" stroke-linejoin="round"/>
<path d="M133.7,468.8 L134.2,465.8 L134.7,463.0 L135.2,460.3 L135.7,457.8 L136.2,455.4 L136.7,453.2 L137.2,451.1 L137.7,449.2 L138.2,447.4 L138.7,445.8 L139.2,444.4 L139.7,443.0 L140.2,441.9 L140.7,440.9 L141.2,440.0 L141.7,439.3 L142.2,438.7 L142.7,438.3 L143.2,438.0 L143.7,437.8 L144.2,437.9 L144.7,438.1 L145.2,438.6 L145.7,439.2 L146.2,440.0 L146.7,440.9 L147.2,441.9 L147.7,443.0 L148.2,444.1 L148.7,445.2 L149.2,446.5 L149.7,448.1 L150.2,450.0 L150.7,452.1 L151.2,454.4 L151.7,457.0 L152.2,459.6 L152.7,462.4 L153.2,465.3 L153.7,468.3 L154.2,471.2 L154.7,474.2 L155.2,477.1 L155.7,479.9 L156.2,482.7 L156.7,485.3 L157.2,487.7 L157.7,489.9 L158.2,491.9 L158.7,493.7 L159.2,495.1 L159.7,496.4 L160.2,497.8 L160.7,499.1 L161.2,500.3 L161.7,501.6 L162.2,502.8 L162.7,504.0 L163.2,505.0 L163.7,506.0 L164.2,506.9 L164.7,507.7 L165.2,508.4 L165.7,508.9 L166.2,509.3 L166.7,509.5 L167.2,509.6 L167.7,509.4 L168.2,509.0 L168.7,508.4 L169.2,507.6 L169.7,506.7 L170.2,505.6 L170.7,504.5 L171.2,503.3 L171.7,502.0 L172.2,500.7 L172.7,499.2 L173.2,497.2 L173.7,494.8 L174.2,491.9 L174.7,488.7 L175.2,485.3 L175.7,481.7 L176.2,478.0 L176.7,474.2 L177.2,470.5 L177.7,466.9 L178.2,463.5 L178.7,460.3 L179.2,457.5 L179.7,455.1 L180.2,453.1 L180.7,451.4 L181.2,449.7 L181.7,448.1 L182.2,446.4 L182.7,444.8 L183.2,443.2 L183.7,441.7 L184.2,440.2 L184.7,438.8 L185.2,437.5 L185.7,436.2 L186.2,435.1 L186.7,434.1 L187.2,433.2 L187.7,432.4 L188.2,431.7 L188.7,431.3 L189.2,430.9 L189.7,430.7 L190.2,430.8 L190.7,431.0 L191.2,431.4 L191.7,432.0 L192.2,432.8 L192.7,433.7 L193.2,434.8 L193.7,435.9 L194.2,437.2 L194.7,438.6 L195.2,440.0 L195.7,441.5 L196.2,443.0 L196.7,444.6 L197.2,446.2 L197.7,447.7 L198.2,449.2 L198.7,450.7 L199.2,452.4 L199.7,454.2 L200.2,456.2 L200.7,458.4 L201.2,460.8 L201.7,463.2 L202.2,465.7 L202.7,468.3 L203.2,470.9 L203.7,473.6 L204.2,476.2 L204.7,478.7 L205.2,481.2 L205.7,483.6 L206.2,485.8 L206.7,487.9 L207.2,489.9 L207.7,491.6 L208.2,493.1 L208.7,494.3 L209.2,495.3 L209.7,496.1 L210.2,496.9 L210.7,497.7 L211.2,498.5 L211.7,499.3 L212.2,500.0 L212.7,500.6 L213.2,501.2 L213.7,501.7 L214.2,502.1 L214.7,502.5 L215.2,502.8 L215.7,502.9 L216.2,503.0 L216.7,502.9 L217.2,502.7 L217.7,502.4 L218.2,501.9 L218.7,501.4 L219.2,500.7 L219.7,500.0 L220.2,499.2 L220.7,498.3 L221.2,497.3 L221.7,496.4 L222.2,495.3 L222.7,494.3 L223.2,493.3 L223.7,492.2 L224.2,490.9 L224.7,489.3 L225.2,487.5 L225.7,485.4 L226.2,483.1 L226.7,480.7 L227.2,478.2 L227.7,475.6 L228.2,473.0 L228.7,470.3 L229.2,467.7 L229.7,465.2 L230.2,462.7 L230.7,460.4 L231.2,458.3 L231.7,456.3 L232.2,454.6 L232.7,453.2 L233.2,452.0 L233.7,450.8 L234.2,449.5 L234.7,448.3 L235.2,447.1 L235.7,446.0 L236.2,444.9 L236.7,443.8 L237.2,442.9 L237.7,442.0 L238.2,441.3 L238.7,440.6 L239.2,440.1 L239.7,439.7 L240.2,439.5 L240.7,439.4 L241.2,439.6 L241.7,440.1 L242.2,440.9 L242.7,441.9 L243.2,443.0 L243.7,444.3 L244.2,445.7 L244.7,447.1 L245.2,448.5 L245.7,449.9 L246.2,451.2 L246.7,452.7 L247.2,454.4 L247.7,456.2 L248.2,458.1 L248.7,460.1 L249.2,462.1 L249.7,464.3 L250.2,466.4 L250.7,468.7 L251.2,470.9 L251.7,473.1 L252.2,475.2 L252.7,477.4 L253.2,479.4 L253.7,481.4 L254.2,483.3 L254.7,485.0 L255.2,486.6 L255.7,488.1 L256.2,489.4 L256.7,490.5 L257.2,491.6 L257.7,492.7 L258.2,493.8 L258.7,494.9 L259.2,496.0 L259.7,497.0 L260.2,498.1 L260.7,499.0 L261.2,499.9 L261.7,500.8 L262.2,501.6 L262.7,502.3 L263.2,502.9 L263.7,503.4 L264.2,503.8 L264.7,504.1 L265.2,504.3 L265.7,504.3 L266.2,504.0 L266.7,503.4 L267.2,502.5 L267.7,501.3 L268.2,499.9 L268.7,498.3 L269.2,496.5 L269.7,494.6 L270.2,492.6 L270.7,490.5 L271.2,488.5 L271.7,486.5 L272.2,484.5 L272.7,482.5 L273.2,480.1 L273.7,477.6 L274.2,474.8 L274.7,471.9 L275.2,468.9 L275.7,465.8 L276.2,462.7 L276.7,459.6 L277.2,456.6 L277.7,453.7 L278.2,450.9 L278.7,448.3 L279.2,446.0 L279.7,443.9 L280.2,442.1 L280.7,440.4 L281.2,438.6 L281.7,436.9 L282.2,435.1 L282.7,433.5 L283.2,431.9 L283.7,430.4 L284.2,429.0 L284.7,427.7 L285.2,426.7 L285.7,425.8 L286.2,425.2 L286.7,424.8 L287.2,424.7 L287.7,424.9 L288.2,425.4 L288.7,426.1 L289.2,427.1 L289.7,428.3 L290.2,429.6 L290.7,431.1 L291.2,432.6 L291.7,434.1 L292.2,435.7 L292.7,437.8 L293.2,440.2 L293.7,443.0 L294.2,446.0 L294.7,449.3 L295.2,452.7 L295.7,456.2 L296.2,459.7 L296.7,463.2 L297.2,466.5 L297.7,469.7 L298.2,472.7 L298.7,475.4 L299.2,478.2 L299.7,481.0 L300.2,483.9 L300.7,486.7 L301.2,489.4 L301.7,491.9 L302.2,494.0 L302.7,495.9 L303.2,497.3 L303.7,498.2 L304.2,499.1 L304.7,500.0 L305.2,500.8 L305.7,501.6 L306.2,502.2 L306.7,502.8 L307.2,503.3 L307.7,503.7 L308.2,504.0 L308.7,504.2 L309.2,504.3 L309.7,504.2 L310.2,504.1 L310.7,503.8 L311.2,503.4 L311.7,502.9 L312.2,502.3 L312.7,501.7 L313.2,501.0 L313.7,500.2 L314.2,499.4 L314.7,498.6 L315.2,497.8 L315.7,496.9 L316.2,495.6 L316.7,494.2 L317.2,492.5 L317.7,490.6 L318.2,488.6 L318.7,486.5 L319.2,484.3 L319.7,482.1 L320.2,479.9 L320.7,477.7 L321.2,475.6 L321.7,473.6 L322.2,471.8 L322.7,470.1 L323.2,468.6 L323.7,467.3 L324.2,465.9 L324.7,464.6 L325.2,463.2 L325.7,461.9 L326.2,460.6 L326.7,459.4 L327.2,458.2 L327.7,457.1 L328.2,456.1 L328.7,455.1 L329.2,454.2 L329.7,453.4 L330.2,452.7 L330.7,452.1 L331.2,451.6 L331.7,451.1 L332.2,450.7 L332.7,450.2 L333.2,449.8 L333.7,449.4 L334.2,449.0 L334.7,448.6 L335.2,448.2 L335.7,447.9 L336.2,447.5 L336.7,447.2 L337.2,447.0 L337.7,446.7 L338.2,446.5 L338.7,446.3 L339.2,446.1 L339.7,445.9 L340.2,445.8 L340.7,445.8 L341.2,445.7 L341.7,445.7 L342.2,445.8 L342.7,446.0 L343.2,446.3 L343.7,446.6 L344.2,447.0 L344.7,447.5 L345.2,448.1 L345.7,448.7 L346.2,449.4 L346.7,450.1 L347.2,450.9 L347.7,451.6 L348.2,452.4 L348.7,453.2 L349.2,454.0 L349.7,454.9 L350.2,456.0 L350.7,457.3 L351.2,458.7 L351.7,460.3 L352.2,462.1 L352.7,463.9 L353.2,465.8 L353.7,467.7 L354.2,469.6 L354.7,471.4 L355.2,473.2 L355.7,474.9 L356.2,476.5 L356.7,477.9 L357.2,479.1 L357.7,480.2 L358.2,481.3 L358.7,482.4 L359.2,483.5 L359.7,484.6 L360.2,485.7 L360.7,486.8 L361.2,487.9 L361.7,488.9 L362.2,489.9 L362.7,490.9 L363.2,491.8 L363.7,492.7 L364.2,493.5 L364.7,494.2 L365.2,494.9 L365.7,495.5 L366.2,496.0 L366.7,496.4 L367.2,496.8 L367.7,497.0 L368.2,497.2 L368.7,497.2 L369.2,497.1 L369.7,496.9 L370.2,496.5 L370.7,496.1 L371.2,495.5 L371.7,494.9 L372.2,494.1 L372.7,493.3 L373.2,492.4 L373.7,491.5 L374.2,490.5 L374.7,489.5 L375.2,488.4 L375.7,487.4 L376.2,486.3 L376.7,485.2 L377.2,484.2 L377.7,482.9 L378.2,481.4 L378.7,479.7 L379.2,477.9 L379.7,475.9 L380.2,473.8 L380.7,471.7 L381.2,469.5 L381.7,467.3 L382.2,465.0 L382.7,462.8 L383.2,460.7 L383.7,458.6 L384.2,456.7 L384.7,454.8 L385.2,453.2 L385.7,451.7 L386.2,450.4 L386.7,449.3 L387.2,448.1 L387.7,447.0 L388.2,445.8 L388.7,444.6 L389.2,443.5 L389.7,442.4 L390.2,441.3 L390.7,440.3 L391.2,439.2 L391.7,438.3 L392.2,437.4 L392.7,436.5 L393.2,435.7 L393.7,434.9 L394.2,434.3 L394.7,433.7 L395.2,433.2 L395.7,432.7 L396.2,432.4 L396.7,432.2 L397.2,432.1 L397.7,432.1 L398.2,432.2 L398.7,432.6 L399.2,433.0 L399.7,433.7 L400.2,434.4 L400.7,435.3 L401.2,436.3 L401.7,437.4 L402.2,438.5 L402.7,439.8 L403.2,441.0 L403.7,442.8 L404.2,445.6 L404.7,449.2 L405.2,453.5 L405.7,458.1 L406.2,462.8 L406.7,467.4 L407.2,471.6 L407.7,475.3 L408.2,478.1 L408.7,479.9 L409.2,481.4 L409.7,482.8 L410.2,484.3 L410.7,485.6 L411.2,487.0 L411.7,488.3 L412.2,489.5 L412.7,490.6 L413.2,491.7 L413.7,492.8 L414.2,493.7 L414.7,494.6 L415.2,495.5 L415.7,496.2 L416.2,496.9 L416.7,497.5 L417.2,497.9 L417.7,498.4 L418.2,498.7 L418.7,498.9 L419.2,499.0 L419.7,499.0 L420.2,498.9 L420.7,498.7 L421.2,498.3 L421.7,497.8 L422.2,497.2 L422.7,496.4 L423.2,495.6 L423.7,494.7 L424.2,493.7 L424.7,492.6 L425.2,491.5 L425.7,490.3 L426.2,489.1 L426.7,487.8 L427.2,486.4 L427.7,484.3 L428.2,481.7 L428.7,478.5 L429.2,475.0 L429.7,471.1 L430.2,467.2 L430.7,463.1 L431.2,459.2 L431.7,455.4 L432.2,452.0 L432.7,448.9 L433.2,446.4 L433.7,444.4 L434.2,442.6 L434.7,440.8 L435.2,439.0 L435.7,437.2 L436.2,435.5 L436.7,433.9 L437.2,432.3 L437.7,430.8 L438.2,429.5 L438.7,428.2 L439.2,427.1 L439.7,426.2 L440.2,425.4 L440.7,424.8 L441.2,424.4 L441.7,424.2 L442.2,424.2 L442.7,424.5 L443.2,425.0 L443.7,425.7 L444.2,426.6 L444.7,427.7 L445.2,428.9 L445.7,430.3 L446.2,431.8 L446.7,433.4 L447.2,435.1 L447.7,436.8 L448.2,438.6 L448.7,440.5 L449.2,442.3 L449.7,444.5 L450.2,447.3 L450.7,450.7 L451.2,454.4 L451.7,458.4 L452.2,462.3 L452.7,466.2 L453.2,469.8 L453.7,472.9 L454.2,475.5 L454.7,477.3 L455.2,479.0 L455.7,480.6 L456.2,482.2 L456.7,483.7 L457.2,485.1 L457.7,486.4 L458.2,487.6 L458.7,488.7 L459.2,489.6 L459.7,490.3 L460.2,490.8 L460.7,491.1 L461.2,491.2 L461.7,491.0 L462.2,490.7 L462.7,490.3 L463.2,489.7 L463.7,488.9 L464.2,488.0 L464.7,487.1 L465.2,486.0 L465.7,484.9 L466.2,483.6 L466.7,482.4 L467.2,480.8 L467.7,478.5 L468.2,475.6 L468.7,472.3 L469.2,468.7 L469.7,465.2 L470.2,461.8 L470.7,458.8 L471.2,456.2 L471.7,453.5 L472.2,450.8 L472.7,448.2 L473.2,445.6 L473.7,443.1 L474.2,440.8 L474.7,438.8 L475.2,437.0 L475.7,435.5 L476.2,434.4 L476.7,433.3 L477.2,432.3 L477.7,431.4 L478.2,430.5 L478.7,429.6 L479.2,428.8 L479.7,428.1 L480.2,427.5 L480.7,427.0 L481.2,426.5 L481.7,426.2 L482.2,426.0 L482.7,426.0 L483.2,426.3 L483.7,426.9 L484.2,427.9 L484.7,429.1 L485.2,430.5 L485.7,432.0 L486.2,433.5 L486.7,435.1 L487.2,437.0 L487.7,439.3 L488.2,441.9 L488.7,444.8 L489.2,447.8 L489.7,451.0 L490.2,454.1 L490.7,457.2 L491.2,460.2 L491.7,463.0 L492.2,465.6 L492.7,468.3 L493.2,471.0 L493.7,473.7 L494.2,476.5 L494.7,479.2 L495.2,481.9 L495.7,484.4 L496.2,486.8 L496.7,489.1 L497.2,491.1 L497.7,493.0 L498.2,494.6 L498.7,496.0 L499.2,497.3 L499.7,498.7 L500.2,500.0 L500.7,501.3 L501.2,502.5 L501.7,503.6 L502.2,504.7 L502.7,505.7 L503.2,506.6 L503.7,507.3 L504.2,507.9 L504.7,508.4 L505.2,508.7 L505.7,508.8 L506.2,508.6 L506.7,508.2 L507.2,507.5 L507.7,506.6 L508.2,505.6 L508.7,504.4 L509.2,503.1 L509.7,501.8 L510.2,500.4 L510.7,498.8 L511.2,496.9 L511.7,494.6 L512.2,492.0 L512.7,489.3 L513.2,486.4 L513.7,483.5 L514.2,480.7 L514.7,477.9 L515.2,475.4 L515.7,473.0 L516.2,470.6 L516.7,468.1 L517.2,465.6 L517.7,463.1 L518.2,460.7 L518.7,458.5 L519.2,456.4 L519.7,454.6 L520.2,453.0 L520.7,451.8 L521.2,450.8 L521.7,449.8 L522.2,448.9 L522.7,448.0 L523.2,447.1 L523.7,446.3 L524.2,445.7 L524.7,445.1 L525.2,444.6 L525.7,444.2 L526.2,444.0 L526.7,443.9 L527.2,443.9 L527.7,444.0 L528.2,444.2 L528.7,444.5 L529.2,444.8 L529.7,445.2 L530.2,445.6 L530.7,446.0 L531.2,446.5 L531.7,447.0 L532.2,447.5 L532.7,448.0 L533.2,448.5 L533.7,449.0 L534.2,449.4 L534.7,449.9 L535.2,450.4 L535.7,450.9 L536.2,451.5 L536.7,452.1 L537.2,452.7 L537.7,453.4 L538.2,454.1 L538.7,455.0 L539.2,455.9 L539.7,457.0 L540.2,458.6 L540.7,460.4 L541.2,462.4 L541.7,464.5 L542.2,466.6 L542.7,468.6 L543.2,470.6 L543.7,472.3 L544.2,473.7 L544.7,474.8 L545.2,475.9 L545.7,476.9 L546.2,477.8 L546.7,478.7 L547.2,479.6 L547.7,480.4 L548.2,481.2 L548.7,481.9 L549.2,482.6 L549.7,483.2 L550.2,483.8 L550.7,484.4 L551.2,484.9 L551.7,485.4 L552.2,485.9 L552.7,486.4 L553.2,486.9 L553.7,487.3 L554.2,487.7 L554.7,488.1 L555.2,488.3 L555.7,488.5 L556.2,488.5 L556.7,488.4 L557.2,488.1 L557.7,487.5 L558.2,486.8 L558.7,485.9 L559.2,484.9 L559.7,483.8 L560.2,482.6 L560.7,481.5 L561.2,480.2 L561.7,479.1 L562.2,477.9 L562.7,476.8 L563.2,475.8 L563.7,474.8 L564.2,473.7 L564.7,472.6 L565.2,471.5 L565.7,470.3 L566.2,469.2 L566.7,468.0 L567.2,466.8 L567.7,465.6 L568.2,464.4 L568.7,463.2 L569.2,461.9 L569.7,460.7 L570.2,459.4 L570.7,458.2 L571.2,456.9 L571.7,455.5 L572.2,454.1 L572.7,452.6 L573.2,451.1 L573.7,449.6 L574.2,448.0 L574.7,446.5 L575.2,445.1 L575.7,443.6 L576.2,442.3 L576.7,441.0 L577.2,439.8 L577.7,438.8 L578.2,437.8 L578.7,437.0 L579.2,436.3 L579.7,435.5 L580.2,434.7 L580.7,434.0 L581.2,433.3 L581.7,432.6 L582.2,431.9 L582.7,431.3 L583.2,430.8 L583.7,430.3 L584.2,429.8 L584.7,429.5 L585.2,429.2 L585.7,429.0 L586.2,428.9 L586.7,428.9 L587.2,429.1 L587.7,429.5 L588.2,430.1 L588.7,430.8 L589.2,431.7 L589.7,432.6 L590.2,433.6 L590.7,434.7 L591.2,435.8 L591.7,437.0 L592.2,438.2 L592.7,439.3 L593.2,440.4 L593.7,441.6 L594.2,443.0 L594.7,444.4 L595.2,446.0 L595.7,447.6 L596.2,449.2 L596.7,450.9 L597.2,452.7 L597.7,454.5 L598.2,456.2 L598.7,458.0 L599.2,459.7 L599.7,461.4 L600.2,463.3 L600.7,465.2 L601.2,467.2 L601.7,469.2 L602.2,471.3 L602.7,473.3 L603.2,475.3 L603.7,477.3 L604.2,479.1 L604.7,480.8 L605.2,482.3 L605.7,483.6 L606.2,484.8 L606.7,485.8 L607.2,486.8 L607.7,487.8 L608.2,488.8 L608.7,489.8 L609.2,490.7 L609.7,491.5 L610.2,492.3 L610.7,493.1 L611.2,493.7 L611.7,494.3 L612.2,494.8 L612.7,495.2 L613.2,495.5 L613.7,495.6 L614.2,495.6 L614.7,495.6 L615.2,495.4 L615.7,495.2 L616.2,494.9 L616.7,494.6 L617.2,494.3 L617.7,493.9 L618.2,493.4 L618.7,493.0 L619.2,492.5 L619.7,492.0 L620.2,491.5 L620.7,491.0 L621.2,490.6 L621.7,490.1 L622.2,489.6 L622.7,489.0 L623.2,488.4 L623.7,487.8 L624.2,487.1 L624.7,486.3 L625.2,485.4 L625.7,484.3 L626.2,483.2 L626.7,481.9 L627.2,480.5 L627.7,478.1 L628.2,474.4 L628.7,469.9 L629.2,464.8 L629.7,459.6 L629.7,458.8" fill="none" stroke="#ff33ff" stroke-width="1.9" stroke-dasharray="4.1 2.2" stroke-linejoin="round"/>
<text x="133.85" y="492.75" font-size="13" text-anchor="middle" fill="#222">0</text>
<text x="185.6" y="492.75" font-size="13" text-anchor="middle" fill="#222">100</text>
<text x="237.35" y="492.75" font-size="13" text-anchor="middle" fill="#222">200</text>
<text x="289.1" y="492.75" font-size="13" text-anchor="middle" fill="#222">300</text>
<text x="340.85" y="492.75" font-size="13" text-anchor="middle" fill="#222">400</text>
<text x="392.6" y="492.75" font-size="13" text-anchor="middle" fill="#222">500</text>
<text x="444.35" y="492.75" font-size="13" text-anchor="middle" fill="#222">600</text>
<text x="496.1" y="492.75" font-size="13" text-anchor="middle" fill="#222">700</text>
<text x="547.85" y="492.75" font-size="13" text-anchor="middle" fill="#222">800</text>
<text x="599.6" y="492.75" font-size="13" text-anchor="middle" fill="#222">900</text>
<text x="651.35" y="492.75" font-size="13" text-anchor="middle" fill="#222">1000</text>
<text transform="matrix(0.0000 -0.1238 0.1351 0.0000 87.7952 528.3952)" font-size="100" font-family='"Liberation Sans", sans-serif' font-weight="bold" fill="#000">Curvature <tspan font-family='"Liberation Serif", serif'>γ</tspan> (degree)</text>
<line x1="359.20" y1="541.70" x2="367.60" y2="541.70" stroke="#55692d" stroke-width="2"/>
<text transform="matrix(0.1340 0.0000 0.0000 0.1310 367.4301 547.5000)" font-size="100" font-family='"Liberation Sans", sans-serif' fill="#222">Control</text>
<line x1="441.50" y1="541.60" x2="446.40" y2="541.60" stroke="#ff33ff" stroke-width="2"/>
<line x1="448.60" y1="541.60" x2="450.60" y2="541.60" stroke="#ff33ff" stroke-width="2"/>
<text transform="matrix(0.1090 0.0000 0.0000 0.1310 454.0455 547.5000)" font-size="100" font-family='"Liberation Sans", sans-serif' fill="#222">ACR</text>
<line x1="121.90" y1="825.40" x2="404.70" y2="825.40" stroke="#d9d9d9" stroke-width="1.25"/>
<text x="113.6" y="831.5" font-size="13" text-anchor="end" fill="#222">0</text>
<line x1="121.90" y1="778.23" x2="404.70" y2="778.23" stroke="#d9d9d9" stroke-width="1.25"/>
<text x="113.6" y="784.33" font-size="13" text-anchor="end" fill="#222">4</text>
<line x1="121.90" y1="731.06" x2="404.70" y2="731.06" stroke="#d9d9d9" stroke-width="1.25"/>
<text x="113.6" y="737.16" font-size="13" text-anchor="end" fill="#222">8</text>
<line x1="121.90" y1="683.89" x2="404.70" y2="683.89" stroke="#d9d9d9" stroke-width="1.25"/>
<text x="113.6" y="689.99" font-size="13" text-anchor="end" fill="#222">12</text>
<line x1="121.90" y1="636.72" x2="404.70" y2="636.72" stroke="#d9d9d9" stroke-width="1.25"/>
<text x="113.6" y="642.82" font-size="13" text-anchor="end" fill="#222">16</text>
<line x1="121.90" y1="589.55" x2="404.70" y2="589.55" stroke="#d9d9d9" stroke-width="1.25"/>
<text x="113.6" y="595.65" font-size="13" text-anchor="end" fill="#222">20</text>
<line x1="126.20" y1="589.55" x2="126.20" y2="830.00" stroke="#cfcfcf" stroke-width="1.25"/>
<line x1="219.30" y1="825.40" x2="219.30" y2="830.00" stroke="#cfcfcf" stroke-width="1.25"/>
<line x1="311.80" y1="825.40" x2="311.80" y2="830.00" stroke="#cfcfcf" stroke-width="1.25"/>
<line x1="404.70" y1="825.40" x2="404.70" y2="830.00" stroke="#cfcfcf" stroke-width="1.25"/>
<line x1="159.25" y1="743.2" x2="159.25" y2="747.7" stroke="#333" stroke-width="1.1"/>
<rect x="145.9" y="746.7" width="26.70" height="78.70" fill="#00ff00"/>
<line x1="185.80" y1="746.7" x2="185.80" y2="754.7" stroke="#333" stroke-width="1.1"/>
<rect x="172.6" y="753.7" width="26.40" height="71.70" fill="#ff40ff"/>
<line x1="251.95" y1="596.7" x2="251.95" y2="606.0" stroke="#333" stroke-width="1.1"/>
<rect x="238.6" y="605.0" width="26.70" height="220.40" fill="#00ff00"/>
<line x1="278.60" y1="639.1" x2="278.60" y2="649.4" stroke="#333" stroke-width="1.1"/>
<rect x="265.3" y="648.4" width="26.60" height="177.00" fill="#ff40ff"/>
<line x1="345.25" y1="683.6" x2="345.25" y2="694.1" stroke="#333" stroke-width="1.1"/>
<rect x="332.1" y="693.1" width="26.30" height="132.30" fill="#00ff00"/>
<line x1="371.55" y1="713.8" x2="371.55" y2="722.8" stroke="#333" stroke-width="1.1"/>
<rect x="358.4" y="721.8" width="26.30" height="103.60" fill="#ff40ff"/>
<text transform="matrix(0.1458 0.0000 0.0000 0.1570 274.2083 631.3957)" font-size="100" font-family='"DejaVu Sans", sans-serif' font-weight="bold" fill="#111">*</text>
<text transform="matrix(0.1458 0.0000 0.0000 0.1570 274.6083 639.2957)" font-size="100" font-family='"DejaVu Sans", sans-serif' font-weight="bold" fill="#111">*</text>
<text transform="matrix(0.1458 0.0000 0.0000 0.1570 367.4083 706.6957)" font-size="100" font-family='"DejaVu Sans", sans-serif' font-weight="bold" fill="#111">*</text>
<text transform="matrix(0.1458 0.0000 0.0000 0.1570 367.8083 714.5957)" font-size="100" font-family='"DejaVu Sans", sans-serif' font-weight="bold" fill="#111">*</text>
<text transform="matrix(0.1348 0.0000 0.0000 0.1420 152.9630 851.3000)" font-size="100" font-family='"Liberation Sans", sans-serif' font-weight="bold" fill="#000">Alpha</text>
<text transform="matrix(0.1392 0.0000 0.0000 0.1420 239.2432 851.4000)" font-size="100" font-family='"Liberation Sans", sans-serif' font-weight="bold" fill="#000">Gamma</text>
<text transform="matrix(0.1358 0.0000 0.0000 0.1420 343.1174 851.3000)" font-size="100" font-family='"Liberation Sans", sans-serif' font-weight="bold" fill="#000">Beta</text>
<text transform="matrix(0.0000 -0.1192 0.1351 0.0000 87.7952 795.8745)" font-size="100" font-family='"Liberation Sans", sans-serif' font-weight="bold" fill="#000">Body curvatures (degress)</text>
<rect x="413.2" y="704.6" width="8" height="7.9" fill="#00ff00"/>
<text transform="matrix(0.1359 0.0000 0.0000 0.1310 424.3205 713.4000)" font-size="100" font-family='"Liberation Sans", sans-serif' fill="#222">Control</text>
<rect x="413.2" y="723.9" width="8" height="7.9" fill="#ff40ff"/>
<text transform="matrix(0.1109 0.0000 0.0000 0.1310 425.9445 731.9000)" font-size="100" font-family='"Liberation Sans", sans-serif' fill="#222">ACR</text>
<line x1="536.10" y1="825.90" x2="685.00" y2="825.90" stroke="#d9d9d9" stroke-width="1.25"/>
<text x="527.9" y="832.2" font-size="13" text-anchor="end" fill="#222">0</text>
<line x1="536.10" y1="766.80" x2="685.00" y2="766.80" stroke="#d9d9d9" stroke-width="1.25"/>
<text x="527.9" y="773.1" font-size="13" text-anchor="end" fill="#222">1</text>
<line x1="536.10" y1="707.70" x2="685.00" y2="707.70" stroke="#d9d9d9" stroke-width="1.25"/>
<text x="527.9" y="714.0" font-size="13" text-anchor="end" fill="#222">2</text>
<line x1="536.10" y1="648.60" x2="685.00" y2="648.60" stroke="#d9d9d9" stroke-width="1.25"/>
<text x="527.9" y="654.9" font-size="13" text-anchor="end" fill="#222">3</text>
<line x1="536.10" y1="589.50" x2="685.00" y2="589.50" stroke="#d9d9d9" stroke-width="1.25"/>
<text x="527.9" y="595.8" font-size="13" text-anchor="end" fill="#222">4</text>
<line x1="540.40" y1="589.50" x2="540.40" y2="830.70" stroke="#cfcfcf" stroke-width="1.25"/>
<line x1="612.50" y1="825.90" x2="612.50" y2="830.70" stroke="#cfcfcf" stroke-width="1.25"/>
<line x1="576.60" y1="600.6" x2="576.60" y2="611.4" stroke="#333" stroke-width="1.1"/>
<rect x="562.4" y="610.4" width="28.40" height="215.50" fill="#00ff00"/>
<line x1="648.55" y1="640.9" x2="648.55" y2="653.8" stroke="#333" stroke-width="1.1"/>
<rect x="634.2" y="652.8" width="28.70" height="173.10" fill="#ff40ff"/>
<text transform="matrix(0.1458 0.0000 0.0000 0.1570 644.2083 634.4957)" font-size="100" font-family='"DejaVu Sans", sans-serif' font-weight="bold" fill="#111">*</text>
<text transform="matrix(0.1458 0.0000 0.0000 0.1570 644.6083 642.3957)" font-size="100" font-family='"DejaVu Sans", sans-serif' font-weight="bold" fill="#111">*</text>
<text transform="matrix(0.1398 0.0000 0.0000 0.1420 551.6409 851.7000)" font-size="100" font-family='"Liberation Sans", sans-serif' font-weight="bold" fill="#000">Control</text>
<text transform="matrix(0.1262 0.0000 0.0000 0.1420 634.5844 851.9000)" font-size="100" font-family='"Liberation Sans", sans-serif' font-weight="bold" fill="#000">ACR</text>
<text transform="matrix(0.0000 -0.1270 0.1326 0.0000 505.6150 794.0270)" font-size="100" font-family='"Liberation Sans", sans-serif' font-weight="bold" fill="#000">Tail-beat amplitude (mm)</text>
</svg>
</body>
</html>
